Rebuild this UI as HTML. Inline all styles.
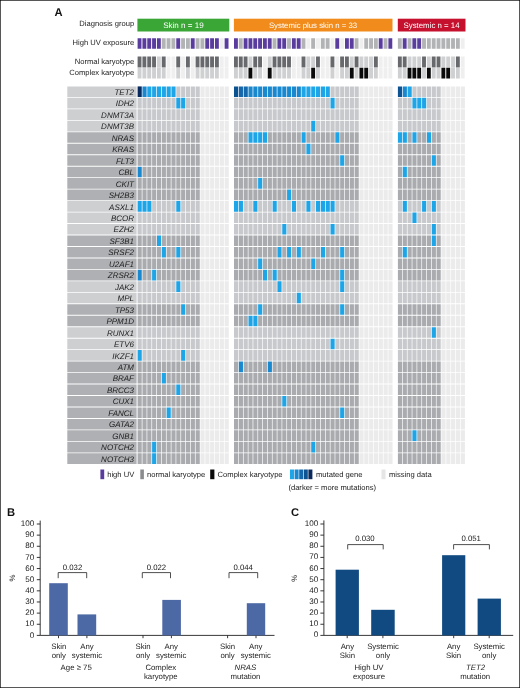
<!DOCTYPE html>
<html><head><meta charset="utf-8"><title>Figure</title>
<style>
html,body{margin:0;padding:0;background:#fff;}
body{width:520px;height:688px;overflow:hidden;position:relative;font-family:"Liberation Sans",sans-serif;}
svg{position:absolute;left:0;top:0;display:block;will-change:transform;}
svg text{font-family:"Liberation Sans",sans-serif;text-rendering:geometricPrecision;}
#frame{position:absolute;left:0;top:0;width:518px;height:686px;border:1px solid #555;pointer-events:none;}
</style></head><body>
<svg width="520" height="688" viewBox="0 0 520 688">
<rect x="0" y="0" width="520" height="688" fill="#ffffff"/>
<!-- panel A -->
<text x="54.5" y="15.5" font-size="11.2" font-weight="bold" fill="#111">A</text>
<g font-size="7.6" fill="#1c1c1c" text-anchor="end">
<text x="134.2" y="26.1">Diagnosis group</text>
<text x="134.2" y="45.2">High UV exposure</text>
<text x="134.2" y="63.6">Normal karyotype</text>
<text x="134.2" y="74.8">Complex karyotype</text>
</g>
<rect x="137.4" y="18.7" width="91.9" height="12.8" fill="#39a636"/>
<rect x="233.9" y="18.7" width="158.6" height="12.8" fill="#f18c1c"/>
<rect x="397.8" y="18.7" width="67.7" height="12.8" fill="#c5112e"/>
<g font-size="8.05" fill="#ffffff" text-anchor="middle">
<text x="183.4" y="27.9">Skin n = 19</text>
<text x="313.0" y="27.9" font-size="7.8">Systemic plus skin n = 33</text>
<text x="431.5" y="27.9" font-size="7.85">Systemic n = 14</text>
</g>
<path fill="#5a3c9e" d="M137.6 38.25h3.88v10.4h-3.88zM142.44 38.25h3.88v10.4h-3.88zM147.27 38.25h3.88v10.4h-3.88zM152.1 38.25h3.88v10.4h-3.88zM156.94 38.25h3.88v10.4h-3.88zM176.28 38.25h3.88v10.4h-3.88zM190.78 38.25h3.88v10.4h-3.88zM205.29 38.25h3.88v10.4h-3.88zM210.12 38.25h3.88v10.4h-3.88zM214.96 38.25h3.88v10.4h-3.88zM224.63 38.25h3.88v10.4h-3.88zM234 38.25h3.88v10.4h-3.88zM243.65 38.25h3.88v10.4h-3.88zM248.47 38.25h3.88v10.4h-3.88zM253.3 38.25h3.88v10.4h-3.88zM258.12 38.25h3.88v10.4h-3.88zM262.95 38.25h3.88v10.4h-3.88zM267.77 38.25h3.88v10.4h-3.88zM277.43 38.25h3.88v10.4h-3.88zM282.25 38.25h3.88v10.4h-3.88zM291.9 38.25h3.88v10.4h-3.88zM296.73 38.25h3.88v10.4h-3.88zM335.32 38.25h3.88v10.4h-3.88zM344.98 38.25h3.88v10.4h-3.88zM349.8 38.25h3.88v10.4h-3.88zM378.75 38.25h3.88v10.4h-3.88zM388.4 38.25h3.88v10.4h-3.88zM402.73 38.25h3.88v10.4h-3.88zM412.4 38.25h3.88v10.4h-3.88zM417.24 38.25h3.88v10.4h-3.88z"/>
<path fill="#b1b3b5" d="M161.78 38.25h3.88v10.4h-3.88zM166.61 38.25h3.88v10.4h-3.88zM171.44 38.25h3.88v10.4h-3.88zM181.12 38.25h3.88v10.4h-3.88zM185.95 38.25h3.88v10.4h-3.88zM195.62 38.25h3.88v10.4h-3.88zM200.45 38.25h3.88v10.4h-3.88zM238.82 38.25h3.88v10.4h-3.88zM272.6 38.25h3.88v10.4h-3.88zM287.07 38.25h3.88v10.4h-3.88zM301.55 38.25h3.88v10.4h-3.88zM311.2 38.25h3.88v10.4h-3.88zM320.85 38.25h3.88v10.4h-3.88zM325.68 38.25h3.88v10.4h-3.88zM354.62 38.25h3.88v10.4h-3.88zM364.27 38.25h3.88v10.4h-3.88zM369.1 38.25h3.88v10.4h-3.88zM373.93 38.25h3.88v10.4h-3.88zM383.58 38.25h3.88v10.4h-3.88zM397.9 38.25h3.88v10.4h-3.88zM407.57 38.25h3.88v10.4h-3.88zM422.07 38.25h3.88v10.4h-3.88zM426.91 38.25h3.88v10.4h-3.88zM431.75 38.25h3.88v10.4h-3.88zM436.58 38.25h3.88v10.4h-3.88zM441.41 38.25h3.88v10.4h-3.88zM446.25 38.25h3.88v10.4h-3.88zM451.08 38.25h3.88v10.4h-3.88zM455.92 38.25h3.88v10.4h-3.88z"/>
<path fill="#efeff0" d="M219.79 38.25h3.88v10.4h-3.88zM166.61 56.4h3.88v11.1h-3.88zM171.44 56.4h3.88v11.1h-3.88zM181.12 56.4h3.88v11.1h-3.88zM190.78 56.4h3.88v11.1h-3.88zM219.79 56.4h3.88v11.1h-3.88zM224.63 56.4h3.88v11.1h-3.88zM166.61 67.8h3.88v10.8h-3.88zM171.44 67.8h3.88v10.8h-3.88zM181.12 67.8h3.88v10.8h-3.88zM190.78 67.8h3.88v10.8h-3.88zM219.79 67.8h3.88v10.8h-3.88zM224.63 67.8h3.88v10.8h-3.88zM306.38 38.25h3.88v10.4h-3.88zM316.02 38.25h3.88v10.4h-3.88zM330.5 38.25h3.88v10.4h-3.88zM340.15 38.25h3.88v10.4h-3.88zM359.45 38.25h3.88v10.4h-3.88zM262.95 56.4h3.88v11.1h-3.88zM291.9 56.4h3.88v11.1h-3.88zM296.73 56.4h3.88v11.1h-3.88zM320.85 56.4h3.88v11.1h-3.88zM325.68 56.4h3.88v11.1h-3.88zM335.32 56.4h3.88v11.1h-3.88zM378.75 56.4h3.88v11.1h-3.88zM383.58 56.4h3.88v11.1h-3.88zM388.4 56.4h3.88v11.1h-3.88zM262.95 67.8h3.88v10.8h-3.88zM291.9 67.8h3.88v10.8h-3.88zM296.73 67.8h3.88v10.8h-3.88zM320.85 67.8h3.88v10.8h-3.88zM325.68 67.8h3.88v10.8h-3.88zM335.32 67.8h3.88v10.8h-3.88zM378.75 67.8h3.88v10.8h-3.88zM383.58 67.8h3.88v10.8h-3.88zM388.4 67.8h3.88v10.8h-3.88zM460.75 38.25h3.88v10.4h-3.88zM460.75 56.4h3.88v11.1h-3.88zM460.75 67.8h3.88v10.8h-3.88z"/>
<path fill="#68696c" d="M137.6 56.4h3.88v11.1h-3.88zM142.44 56.4h3.88v11.1h-3.88zM147.27 56.4h3.88v11.1h-3.88zM152.1 56.4h3.88v11.1h-3.88zM161.78 56.4h3.88v11.1h-3.88zM176.28 56.4h3.88v11.1h-3.88zM185.95 56.4h3.88v11.1h-3.88zM195.62 56.4h3.88v11.1h-3.88zM200.45 56.4h3.88v11.1h-3.88zM205.29 56.4h3.88v11.1h-3.88zM210.12 56.4h3.88v11.1h-3.88zM214.96 56.4h3.88v11.1h-3.88zM234 56.4h3.88v11.1h-3.88zM238.82 56.4h3.88v11.1h-3.88zM243.65 56.4h3.88v11.1h-3.88zM253.3 56.4h3.88v11.1h-3.88zM258.12 56.4h3.88v11.1h-3.88zM272.6 56.4h3.88v11.1h-3.88zM277.43 56.4h3.88v11.1h-3.88zM282.25 56.4h3.88v11.1h-3.88zM287.07 56.4h3.88v11.1h-3.88zM301.55 56.4h3.88v11.1h-3.88zM316.02 56.4h3.88v11.1h-3.88zM330.5 56.4h3.88v11.1h-3.88zM340.15 56.4h3.88v11.1h-3.88zM344.98 56.4h3.88v11.1h-3.88zM354.62 56.4h3.88v11.1h-3.88zM373.93 56.4h3.88v11.1h-3.88zM397.9 56.4h3.88v11.1h-3.88zM402.73 56.4h3.88v11.1h-3.88zM422.07 56.4h3.88v11.1h-3.88zM431.75 56.4h3.88v11.1h-3.88zM436.58 56.4h3.88v11.1h-3.88zM455.92 56.4h3.88v11.1h-3.88z"/>
<path fill="#cfd0d2" d="M156.94 56.4h3.88v11.1h-3.88zM137.6 67.8h3.88v10.8h-3.88zM142.44 67.8h3.88v10.8h-3.88zM147.27 67.8h3.88v10.8h-3.88zM152.1 67.8h3.88v10.8h-3.88zM156.94 67.8h3.88v10.8h-3.88zM161.78 67.8h3.88v10.8h-3.88zM176.28 67.8h3.88v10.8h-3.88zM185.95 67.8h3.88v10.8h-3.88zM195.62 67.8h3.88v10.8h-3.88zM200.45 67.8h3.88v10.8h-3.88zM205.29 67.8h3.88v10.8h-3.88zM210.12 67.8h3.88v10.8h-3.88zM214.96 67.8h3.88v10.8h-3.88zM248.47 56.4h3.88v11.1h-3.88zM267.77 56.4h3.88v11.1h-3.88zM306.38 56.4h3.88v11.1h-3.88zM311.2 56.4h3.88v11.1h-3.88zM349.8 56.4h3.88v11.1h-3.88zM359.45 56.4h3.88v11.1h-3.88zM364.27 56.4h3.88v11.1h-3.88zM369.1 56.4h3.88v11.1h-3.88zM234 67.8h3.88v10.8h-3.88zM238.82 67.8h3.88v10.8h-3.88zM243.65 67.8h3.88v10.8h-3.88zM253.3 67.8h3.88v10.8h-3.88zM258.12 67.8h3.88v10.8h-3.88zM272.6 67.8h3.88v10.8h-3.88zM277.43 67.8h3.88v10.8h-3.88zM282.25 67.8h3.88v10.8h-3.88zM287.07 67.8h3.88v10.8h-3.88zM301.55 67.8h3.88v10.8h-3.88zM306.38 67.8h3.88v10.8h-3.88zM316.02 67.8h3.88v10.8h-3.88zM330.5 67.8h3.88v10.8h-3.88zM340.15 67.8h3.88v10.8h-3.88zM344.98 67.8h3.88v10.8h-3.88zM354.62 67.8h3.88v10.8h-3.88zM369.1 67.8h3.88v10.8h-3.88zM373.93 67.8h3.88v10.8h-3.88zM407.57 56.4h3.88v11.1h-3.88zM412.4 56.4h3.88v11.1h-3.88zM417.24 56.4h3.88v11.1h-3.88zM426.91 56.4h3.88v11.1h-3.88zM441.41 56.4h3.88v11.1h-3.88zM446.25 56.4h3.88v11.1h-3.88zM451.08 56.4h3.88v11.1h-3.88zM397.9 67.8h3.88v10.8h-3.88zM402.73 67.8h3.88v10.8h-3.88zM422.07 67.8h3.88v10.8h-3.88zM431.75 67.8h3.88v10.8h-3.88zM436.58 67.8h3.88v10.8h-3.88zM451.08 67.8h3.88v10.8h-3.88zM455.92 67.8h3.88v10.8h-3.88z"/>
<path fill="#0a0a0a" d="M248.47 67.8h3.88v10.8h-3.88zM267.77 67.8h3.88v10.8h-3.88zM311.2 67.8h3.88v10.8h-3.88zM349.8 67.8h3.88v10.8h-3.88zM359.45 67.8h3.88v10.8h-3.88zM364.27 67.8h3.88v10.8h-3.88zM407.57 67.8h3.88v10.8h-3.88zM412.4 67.8h3.88v10.8h-3.88zM417.24 67.8h3.88v10.8h-3.88zM426.91 67.8h3.88v10.8h-3.88zM441.41 67.8h3.88v10.8h-3.88zM446.25 67.8h3.88v10.8h-3.88z"/>
<path fill="#cdcfd1" d="M67.3 86.4h69.3v10.6h-69.3zM67.3 97.87h69.3v10.6h-69.3zM67.3 109.33h69.3v10.6h-69.3zM67.3 120.8h69.3v10.6h-69.3zM67.3 201.05h69.3v10.6h-69.3zM67.3 212.51h69.3v10.6h-69.3zM67.3 223.98h69.3v10.6h-69.3zM67.3 281.31h69.3v10.6h-69.3zM67.3 292.77h69.3v10.6h-69.3zM67.3 327.16h69.3v10.6h-69.3zM67.3 338.63h69.3v10.6h-69.3zM67.3 350.1h69.3v10.6h-69.3z"/>
<path fill="#0a2a5e" d="M137.6 86.4h4.16v10.6h-4.16z"/>
<path fill="#1a88cf" d="M142.44 86.4h4.16v10.6h-4.16zM248.47 86.4h4.15v10.6h-4.15zM253.3 86.4h4.15v10.6h-4.15zM258.12 86.4h4.15v10.6h-4.15zM262.95 86.4h4.15v10.6h-4.15zM267.77 86.4h4.15v10.6h-4.15zM272.6 86.4h4.15v10.6h-4.15zM277.43 86.4h4.15v10.6h-4.15zM282.25 86.4h4.15v10.6h-4.15zM287.07 86.4h4.15v10.6h-4.15zM291.9 86.4h4.15v10.6h-4.15zM296.73 86.4h4.15v10.6h-4.15zM402.73 86.4h4.16v10.6h-4.16zM137.6 166.66h4.16v10.6h-4.16zM137.6 269.84h4.16v10.6h-4.16zM238.82 361.56h4.15v10.6h-4.15zM267.77 361.56h4.15v10.6h-4.15z"/>
<path fill="#1ea5e8" d="M147.27 86.4h4.16v10.6h-4.16zM152.1 86.4h4.16v10.6h-4.16zM156.94 86.4h4.16v10.6h-4.16zM161.78 86.4h4.16v10.6h-4.16zM166.61 86.4h4.16v10.6h-4.16zM171.44 86.4h4.16v10.6h-4.16zM301.55 86.4h4.15v10.6h-4.15zM306.38 86.4h4.15v10.6h-4.15zM311.2 86.4h4.15v10.6h-4.15zM316.02 86.4h4.15v10.6h-4.15zM320.85 86.4h4.15v10.6h-4.15zM325.68 86.4h4.15v10.6h-4.15zM407.57 86.4h4.16v10.6h-4.16zM176.28 97.87h4.16v10.6h-4.16zM181.12 97.87h4.16v10.6h-4.16zM330.5 97.87h4.15v10.6h-4.15zM412.4 97.87h4.16v10.6h-4.16zM417.24 97.87h4.16v10.6h-4.16zM422.07 97.87h4.16v10.6h-4.16zM311.2 120.8h4.15v10.6h-4.15zM248.47 132.26h4.15v10.6h-4.15zM253.3 132.26h4.15v10.6h-4.15zM258.12 132.26h4.15v10.6h-4.15zM262.95 132.26h4.15v10.6h-4.15zM301.55 132.26h4.15v10.6h-4.15zM335.32 132.26h4.15v10.6h-4.15zM397.9 132.26h4.16v10.6h-4.16zM402.73 132.26h4.16v10.6h-4.16zM412.4 132.26h4.16v10.6h-4.16zM426.91 132.26h4.16v10.6h-4.16zM306.38 143.73h4.15v10.6h-4.15zM340.15 155.19h4.15v10.6h-4.15zM431.75 155.19h4.16v10.6h-4.16zM402.73 166.66h4.16v10.6h-4.16zM258.12 178.12h4.15v10.6h-4.15zM287.07 189.59h4.15v10.6h-4.15zM137.6 201.05h4.16v10.6h-4.16zM142.44 201.05h4.16v10.6h-4.16zM147.27 201.05h4.16v10.6h-4.16zM176.28 201.05h4.16v10.6h-4.16zM234 201.05h4.15v10.6h-4.15zM238.82 201.05h4.15v10.6h-4.15zM253.3 201.05h4.15v10.6h-4.15zM272.6 201.05h4.15v10.6h-4.15zM291.9 201.05h4.15v10.6h-4.15zM306.38 201.05h4.15v10.6h-4.15zM316.02 201.05h4.15v10.6h-4.15zM320.85 201.05h4.15v10.6h-4.15zM325.68 201.05h4.15v10.6h-4.15zM330.5 201.05h4.15v10.6h-4.15zM402.73 201.05h4.16v10.6h-4.16zM422.07 201.05h4.16v10.6h-4.16zM431.75 201.05h4.16v10.6h-4.16zM412.4 212.51h4.16v10.6h-4.16zM282.25 223.98h4.15v10.6h-4.15zM330.5 223.98h4.15v10.6h-4.15zM431.75 223.98h4.16v10.6h-4.16zM156.94 235.44h4.16v10.6h-4.16zM431.75 235.44h4.16v10.6h-4.16zM161.78 246.91h4.16v10.6h-4.16zM176.28 246.91h4.16v10.6h-4.16zM277.43 246.91h4.15v10.6h-4.15zM287.07 246.91h4.15v10.6h-4.15zM296.73 246.91h4.15v10.6h-4.15zM320.85 246.91h4.15v10.6h-4.15zM340.15 246.91h4.15v10.6h-4.15zM402.73 246.91h4.16v10.6h-4.16zM258.12 258.38h4.15v10.6h-4.15zM311.2 258.38h4.15v10.6h-4.15zM152.1 269.84h4.16v10.6h-4.16zM262.95 269.84h4.15v10.6h-4.15zM272.6 269.84h4.15v10.6h-4.15zM340.15 269.84h4.15v10.6h-4.15zM176.28 281.31h4.16v10.6h-4.16zM277.43 281.31h4.15v10.6h-4.15zM340.15 281.31h4.15v10.6h-4.15zM296.73 292.77h4.15v10.6h-4.15zM181.12 304.24h4.16v10.6h-4.16zM258.12 304.24h4.15v10.6h-4.15zM340.15 304.24h4.15v10.6h-4.15zM248.47 315.7h4.15v10.6h-4.15zM253.3 315.7h4.15v10.6h-4.15zM431.75 327.16h4.16v10.6h-4.16zM330.5 338.63h4.15v10.6h-4.15zM137.6 350.1h4.16v10.6h-4.16zM181.12 350.1h4.16v10.6h-4.16zM161.78 373.02h4.16v10.6h-4.16zM176.28 384.49h4.16v10.6h-4.16zM282.25 395.96h4.15v10.6h-4.15zM166.61 407.42h4.16v10.6h-4.16zM340.15 407.42h4.15v10.6h-4.15zM412.4 430.35h4.16v10.6h-4.16zM152.1 441.82h4.16v10.6h-4.16zM311.2 441.82h4.15v10.6h-4.15zM152.1 453.28h4.16v10.6h-4.16z"/>
<path fill="#c7c9cc" d="M176.28 86.4h4.16v10.6h-4.16zM181.12 86.4h4.16v10.6h-4.16zM185.95 86.4h4.16v10.6h-4.16zM190.78 86.4h4.16v10.6h-4.16zM195.62 86.4h4.16v10.6h-4.16zM330.5 86.4h4.15v10.6h-4.15zM335.32 86.4h4.15v10.6h-4.15zM340.15 86.4h4.15v10.6h-4.15zM344.98 86.4h4.15v10.6h-4.15zM349.8 86.4h4.15v10.6h-4.15zM354.62 86.4h4.15v10.6h-4.15zM412.4 86.4h4.16v10.6h-4.16zM417.24 86.4h4.16v10.6h-4.16zM422.07 86.4h4.16v10.6h-4.16zM426.91 86.4h4.16v10.6h-4.16zM431.75 86.4h4.16v10.6h-4.16zM436.58 86.4h4.16v10.6h-4.16zM137.6 97.87h4.16v10.6h-4.16zM142.44 97.87h4.16v10.6h-4.16zM147.27 97.87h4.16v10.6h-4.16zM152.1 97.87h4.16v10.6h-4.16zM156.94 97.87h4.16v10.6h-4.16zM161.78 97.87h4.16v10.6h-4.16zM166.61 97.87h4.16v10.6h-4.16zM171.44 97.87h4.16v10.6h-4.16zM185.95 97.87h4.16v10.6h-4.16zM190.78 97.87h4.16v10.6h-4.16zM195.62 97.87h4.16v10.6h-4.16zM234 97.87h4.15v10.6h-4.15zM238.82 97.87h4.15v10.6h-4.15zM243.65 97.87h4.15v10.6h-4.15zM248.47 97.87h4.15v10.6h-4.15zM253.3 97.87h4.15v10.6h-4.15zM258.12 97.87h4.15v10.6h-4.15zM262.95 97.87h4.15v10.6h-4.15zM267.77 97.87h4.15v10.6h-4.15zM272.6 97.87h4.15v10.6h-4.15zM277.43 97.87h4.15v10.6h-4.15zM282.25 97.87h4.15v10.6h-4.15zM287.07 97.87h4.15v10.6h-4.15zM291.9 97.87h4.15v10.6h-4.15zM296.73 97.87h4.15v10.6h-4.15zM301.55 97.87h4.15v10.6h-4.15zM306.38 97.87h4.15v10.6h-4.15zM311.2 97.87h4.15v10.6h-4.15zM316.02 97.87h4.15v10.6h-4.15zM320.85 97.87h4.15v10.6h-4.15zM325.68 97.87h4.15v10.6h-4.15zM335.32 97.87h4.15v10.6h-4.15zM340.15 97.87h4.15v10.6h-4.15zM344.98 97.87h4.15v10.6h-4.15zM349.8 97.87h4.15v10.6h-4.15zM354.62 97.87h4.15v10.6h-4.15zM397.9 97.87h4.16v10.6h-4.16zM402.73 97.87h4.16v10.6h-4.16zM407.57 97.87h4.16v10.6h-4.16zM426.91 97.87h4.16v10.6h-4.16zM431.75 97.87h4.16v10.6h-4.16zM436.58 97.87h4.16v10.6h-4.16zM137.6 109.33h4.16v10.6h-4.16zM142.44 109.33h4.16v10.6h-4.16zM147.27 109.33h4.16v10.6h-4.16zM152.1 109.33h4.16v10.6h-4.16zM156.94 109.33h4.16v10.6h-4.16zM161.78 109.33h4.16v10.6h-4.16zM166.61 109.33h4.16v10.6h-4.16zM171.44 109.33h4.16v10.6h-4.16zM176.28 109.33h4.16v10.6h-4.16zM181.12 109.33h4.16v10.6h-4.16zM185.95 109.33h4.16v10.6h-4.16zM190.78 109.33h4.16v10.6h-4.16zM195.62 109.33h4.16v10.6h-4.16zM234 109.33h4.15v10.6h-4.15zM238.82 109.33h4.15v10.6h-4.15zM243.65 109.33h4.15v10.6h-4.15zM248.47 109.33h4.15v10.6h-4.15zM253.3 109.33h4.15v10.6h-4.15zM258.12 109.33h4.15v10.6h-4.15zM262.95 109.33h4.15v10.6h-4.15zM267.77 109.33h4.15v10.6h-4.15zM272.6 109.33h4.15v10.6h-4.15zM277.43 109.33h4.15v10.6h-4.15zM282.25 109.33h4.15v10.6h-4.15zM287.07 109.33h4.15v10.6h-4.15zM291.9 109.33h4.15v10.6h-4.15zM296.73 109.33h4.15v10.6h-4.15zM301.55 109.33h4.15v10.6h-4.15zM306.38 109.33h4.15v10.6h-4.15zM311.2 109.33h4.15v10.6h-4.15zM316.02 109.33h4.15v10.6h-4.15zM320.85 109.33h4.15v10.6h-4.15zM325.68 109.33h4.15v10.6h-4.15zM330.5 109.33h4.15v10.6h-4.15zM335.32 109.33h4.15v10.6h-4.15zM340.15 109.33h4.15v10.6h-4.15zM344.98 109.33h4.15v10.6h-4.15zM349.8 109.33h4.15v10.6h-4.15zM354.62 109.33h4.15v10.6h-4.15zM397.9 109.33h4.16v10.6h-4.16zM402.73 109.33h4.16v10.6h-4.16zM407.57 109.33h4.16v10.6h-4.16zM412.4 109.33h4.16v10.6h-4.16zM417.24 109.33h4.16v10.6h-4.16zM422.07 109.33h4.16v10.6h-4.16zM426.91 109.33h4.16v10.6h-4.16zM431.75 109.33h4.16v10.6h-4.16zM436.58 109.33h4.16v10.6h-4.16zM137.6 120.8h4.16v10.6h-4.16zM142.44 120.8h4.16v10.6h-4.16zM147.27 120.8h4.16v10.6h-4.16zM152.1 120.8h4.16v10.6h-4.16zM156.94 120.8h4.16v10.6h-4.16zM161.78 120.8h4.16v10.6h-4.16zM166.61 120.8h4.16v10.6h-4.16zM171.44 120.8h4.16v10.6h-4.16zM176.28 120.8h4.16v10.6h-4.16zM181.12 120.8h4.16v10.6h-4.16zM185.95 120.8h4.16v10.6h-4.16zM190.78 120.8h4.16v10.6h-4.16zM195.62 120.8h4.16v10.6h-4.16zM234 120.8h4.15v10.6h-4.15zM238.82 120.8h4.15v10.6h-4.15zM243.65 120.8h4.15v10.6h-4.15zM248.47 120.8h4.15v10.6h-4.15zM253.3 120.8h4.15v10.6h-4.15zM258.12 120.8h4.15v10.6h-4.15zM262.95 120.8h4.15v10.6h-4.15zM267.77 120.8h4.15v10.6h-4.15zM272.6 120.8h4.15v10.6h-4.15zM277.43 120.8h4.15v10.6h-4.15zM282.25 120.8h4.15v10.6h-4.15zM287.07 120.8h4.15v10.6h-4.15zM291.9 120.8h4.15v10.6h-4.15zM296.73 120.8h4.15v10.6h-4.15zM301.55 120.8h4.15v10.6h-4.15zM306.38 120.8h4.15v10.6h-4.15zM316.02 120.8h4.15v10.6h-4.15zM320.85 120.8h4.15v10.6h-4.15zM325.68 120.8h4.15v10.6h-4.15zM330.5 120.8h4.15v10.6h-4.15zM335.32 120.8h4.15v10.6h-4.15zM340.15 120.8h4.15v10.6h-4.15zM344.98 120.8h4.15v10.6h-4.15zM349.8 120.8h4.15v10.6h-4.15zM354.62 120.8h4.15v10.6h-4.15zM397.9 120.8h4.16v10.6h-4.16zM402.73 120.8h4.16v10.6h-4.16zM407.57 120.8h4.16v10.6h-4.16zM412.4 120.8h4.16v10.6h-4.16zM417.24 120.8h4.16v10.6h-4.16zM422.07 120.8h4.16v10.6h-4.16zM426.91 120.8h4.16v10.6h-4.16zM431.75 120.8h4.16v10.6h-4.16zM436.58 120.8h4.16v10.6h-4.16zM152.1 201.05h4.16v10.6h-4.16zM156.94 201.05h4.16v10.6h-4.16zM161.78 201.05h4.16v10.6h-4.16zM166.61 201.05h4.16v10.6h-4.16zM171.44 201.05h4.16v10.6h-4.16zM181.12 201.05h4.16v10.6h-4.16zM185.95 201.05h4.16v10.6h-4.16zM190.78 201.05h4.16v10.6h-4.16zM195.62 201.05h4.16v10.6h-4.16zM243.65 201.05h4.15v10.6h-4.15zM248.47 201.05h4.15v10.6h-4.15zM258.12 201.05h4.15v10.6h-4.15zM262.95 201.05h4.15v10.6h-4.15zM267.77 201.05h4.15v10.6h-4.15zM277.43 201.05h4.15v10.6h-4.15zM282.25 201.05h4.15v10.6h-4.15zM287.07 201.05h4.15v10.6h-4.15zM296.73 201.05h4.15v10.6h-4.15zM301.55 201.05h4.15v10.6h-4.15zM311.2 201.05h4.15v10.6h-4.15zM335.32 201.05h4.15v10.6h-4.15zM340.15 201.05h4.15v10.6h-4.15zM344.98 201.05h4.15v10.6h-4.15zM349.8 201.05h4.15v10.6h-4.15zM354.62 201.05h4.15v10.6h-4.15zM397.9 201.05h4.16v10.6h-4.16zM407.57 201.05h4.16v10.6h-4.16zM412.4 201.05h4.16v10.6h-4.16zM417.24 201.05h4.16v10.6h-4.16zM426.91 201.05h4.16v10.6h-4.16zM436.58 201.05h4.16v10.6h-4.16zM137.6 212.51h4.16v10.6h-4.16zM142.44 212.51h4.16v10.6h-4.16zM147.27 212.51h4.16v10.6h-4.16zM152.1 212.51h4.16v10.6h-4.16zM156.94 212.51h4.16v10.6h-4.16zM161.78 212.51h4.16v10.6h-4.16zM166.61 212.51h4.16v10.6h-4.16zM171.44 212.51h4.16v10.6h-4.16zM176.28 212.51h4.16v10.6h-4.16zM181.12 212.51h4.16v10.6h-4.16zM185.95 212.51h4.16v10.6h-4.16zM190.78 212.51h4.16v10.6h-4.16zM195.62 212.51h4.16v10.6h-4.16zM234 212.51h4.15v10.6h-4.15zM238.82 212.51h4.15v10.6h-4.15zM243.65 212.51h4.15v10.6h-4.15zM248.47 212.51h4.15v10.6h-4.15zM253.3 212.51h4.15v10.6h-4.15zM258.12 212.51h4.15v10.6h-4.15zM262.95 212.51h4.15v10.6h-4.15zM267.77 212.51h4.15v10.6h-4.15zM272.6 212.51h4.15v10.6h-4.15zM277.43 212.51h4.15v10.6h-4.15zM282.25 212.51h4.15v10.6h-4.15zM287.07 212.51h4.15v10.6h-4.15zM291.9 212.51h4.15v10.6h-4.15zM296.73 212.51h4.15v10.6h-4.15zM301.55 212.51h4.15v10.6h-4.15zM306.38 212.51h4.15v10.6h-4.15zM311.2 212.51h4.15v10.6h-4.15zM316.02 212.51h4.15v10.6h-4.15zM320.85 212.51h4.15v10.6h-4.15zM325.68 212.51h4.15v10.6h-4.15zM330.5 212.51h4.15v10.6h-4.15zM335.32 212.51h4.15v10.6h-4.15zM340.15 212.51h4.15v10.6h-4.15zM344.98 212.51h4.15v10.6h-4.15zM349.8 212.51h4.15v10.6h-4.15zM354.62 212.51h4.15v10.6h-4.15zM397.9 212.51h4.16v10.6h-4.16zM402.73 212.51h4.16v10.6h-4.16zM407.57 212.51h4.16v10.6h-4.16zM417.24 212.51h4.16v10.6h-4.16zM422.07 212.51h4.16v10.6h-4.16zM426.91 212.51h4.16v10.6h-4.16zM431.75 212.51h4.16v10.6h-4.16zM436.58 212.51h4.16v10.6h-4.16zM137.6 223.98h4.16v10.6h-4.16zM142.44 223.98h4.16v10.6h-4.16zM147.27 223.98h4.16v10.6h-4.16zM152.1 223.98h4.16v10.6h-4.16zM156.94 223.98h4.16v10.6h-4.16zM161.78 223.98h4.16v10.6h-4.16zM166.61 223.98h4.16v10.6h-4.16zM171.44 223.98h4.16v10.6h-4.16zM176.28 223.98h4.16v10.6h-4.16zM181.12 223.98h4.16v10.6h-4.16zM185.95 223.98h4.16v10.6h-4.16zM190.78 223.98h4.16v10.6h-4.16zM195.62 223.98h4.16v10.6h-4.16zM234 223.98h4.15v10.6h-4.15zM238.82 223.98h4.15v10.6h-4.15zM243.65 223.98h4.15v10.6h-4.15zM248.47 223.98h4.15v10.6h-4.15zM253.3 223.98h4.15v10.6h-4.15zM258.12 223.98h4.15v10.6h-4.15zM262.95 223.98h4.15v10.6h-4.15zM267.77 223.98h4.15v10.6h-4.15zM272.6 223.98h4.15v10.6h-4.15zM277.43 223.98h4.15v10.6h-4.15zM287.07 223.98h4.15v10.6h-4.15zM291.9 223.98h4.15v10.6h-4.15zM296.73 223.98h4.15v10.6h-4.15zM301.55 223.98h4.15v10.6h-4.15zM306.38 223.98h4.15v10.6h-4.15zM311.2 223.98h4.15v10.6h-4.15zM316.02 223.98h4.15v10.6h-4.15zM320.85 223.98h4.15v10.6h-4.15zM325.68 223.98h4.15v10.6h-4.15zM335.32 223.98h4.15v10.6h-4.15zM340.15 223.98h4.15v10.6h-4.15zM344.98 223.98h4.15v10.6h-4.15zM349.8 223.98h4.15v10.6h-4.15zM354.62 223.98h4.15v10.6h-4.15zM397.9 223.98h4.16v10.6h-4.16zM402.73 223.98h4.16v10.6h-4.16zM407.57 223.98h4.16v10.6h-4.16zM412.4 223.98h4.16v10.6h-4.16zM417.24 223.98h4.16v10.6h-4.16zM422.07 223.98h4.16v10.6h-4.16zM426.91 223.98h4.16v10.6h-4.16zM436.58 223.98h4.16v10.6h-4.16zM137.6 281.31h4.16v10.6h-4.16zM142.44 281.31h4.16v10.6h-4.16zM147.27 281.31h4.16v10.6h-4.16zM152.1 281.31h4.16v10.6h-4.16zM156.94 281.31h4.16v10.6h-4.16zM161.78 281.31h4.16v10.6h-4.16zM166.61 281.31h4.16v10.6h-4.16zM171.44 281.31h4.16v10.6h-4.16zM181.12 281.31h4.16v10.6h-4.16zM185.95 281.31h4.16v10.6h-4.16zM190.78 281.31h4.16v10.6h-4.16zM195.62 281.31h4.16v10.6h-4.16zM234 281.31h4.15v10.6h-4.15zM238.82 281.31h4.15v10.6h-4.15zM243.65 281.31h4.15v10.6h-4.15zM248.47 281.31h4.15v10.6h-4.15zM253.3 281.31h4.15v10.6h-4.15zM258.12 281.31h4.15v10.6h-4.15zM262.95 281.31h4.15v10.6h-4.15zM267.77 281.31h4.15v10.6h-4.15zM272.6 281.31h4.15v10.6h-4.15zM282.25 281.31h4.15v10.6h-4.15zM287.07 281.31h4.15v10.6h-4.15zM291.9 281.31h4.15v10.6h-4.15zM296.73 281.31h4.15v10.6h-4.15zM301.55 281.31h4.15v10.6h-4.15zM306.38 281.31h4.15v10.6h-4.15zM311.2 281.31h4.15v10.6h-4.15zM316.02 281.31h4.15v10.6h-4.15zM320.85 281.31h4.15v10.6h-4.15zM325.68 281.31h4.15v10.6h-4.15zM330.5 281.31h4.15v10.6h-4.15zM335.32 281.31h4.15v10.6h-4.15zM344.98 281.31h4.15v10.6h-4.15zM349.8 281.31h4.15v10.6h-4.15zM354.62 281.31h4.15v10.6h-4.15zM397.9 281.31h4.16v10.6h-4.16zM402.73 281.31h4.16v10.6h-4.16zM407.57 281.31h4.16v10.6h-4.16zM412.4 281.31h4.16v10.6h-4.16zM417.24 281.31h4.16v10.6h-4.16zM422.07 281.31h4.16v10.6h-4.16zM426.91 281.31h4.16v10.6h-4.16zM431.75 281.31h4.16v10.6h-4.16zM436.58 281.31h4.16v10.6h-4.16zM137.6 292.77h4.16v10.6h-4.16zM142.44 292.77h4.16v10.6h-4.16zM147.27 292.77h4.16v10.6h-4.16zM152.1 292.77h4.16v10.6h-4.16zM156.94 292.77h4.16v10.6h-4.16zM161.78 292.77h4.16v10.6h-4.16zM166.61 292.77h4.16v10.6h-4.16zM171.44 292.77h4.16v10.6h-4.16zM176.28 292.77h4.16v10.6h-4.16zM181.12 292.77h4.16v10.6h-4.16zM185.95 292.77h4.16v10.6h-4.16zM190.78 292.77h4.16v10.6h-4.16zM195.62 292.77h4.16v10.6h-4.16zM234 292.77h4.15v10.6h-4.15zM238.82 292.77h4.15v10.6h-4.15zM243.65 292.77h4.15v10.6h-4.15zM248.47 292.77h4.15v10.6h-4.15zM253.3 292.77h4.15v10.6h-4.15zM258.12 292.77h4.15v10.6h-4.15zM262.95 292.77h4.15v10.6h-4.15zM267.77 292.77h4.15v10.6h-4.15zM272.6 292.77h4.15v10.6h-4.15zM277.43 292.77h4.15v10.6h-4.15zM282.25 292.77h4.15v10.6h-4.15zM287.07 292.77h4.15v10.6h-4.15zM291.9 292.77h4.15v10.6h-4.15zM301.55 292.77h4.15v10.6h-4.15zM306.38 292.77h4.15v10.6h-4.15zM311.2 292.77h4.15v10.6h-4.15zM316.02 292.77h4.15v10.6h-4.15zM320.85 292.77h4.15v10.6h-4.15zM325.68 292.77h4.15v10.6h-4.15zM330.5 292.77h4.15v10.6h-4.15zM335.32 292.77h4.15v10.6h-4.15zM340.15 292.77h4.15v10.6h-4.15zM344.98 292.77h4.15v10.6h-4.15zM349.8 292.77h4.15v10.6h-4.15zM354.62 292.77h4.15v10.6h-4.15zM397.9 292.77h4.16v10.6h-4.16zM402.73 292.77h4.16v10.6h-4.16zM407.57 292.77h4.16v10.6h-4.16zM412.4 292.77h4.16v10.6h-4.16zM417.24 292.77h4.16v10.6h-4.16zM422.07 292.77h4.16v10.6h-4.16zM426.91 292.77h4.16v10.6h-4.16zM431.75 292.77h4.16v10.6h-4.16zM436.58 292.77h4.16v10.6h-4.16zM137.6 327.16h4.16v10.6h-4.16zM142.44 327.16h4.16v10.6h-4.16zM147.27 327.16h4.16v10.6h-4.16zM152.1 327.16h4.16v10.6h-4.16zM156.94 327.16h4.16v10.6h-4.16zM161.78 327.16h4.16v10.6h-4.16zM166.61 327.16h4.16v10.6h-4.16zM171.44 327.16h4.16v10.6h-4.16zM176.28 327.16h4.16v10.6h-4.16zM181.12 327.16h4.16v10.6h-4.16zM185.95 327.16h4.16v10.6h-4.16zM190.78 327.16h4.16v10.6h-4.16zM195.62 327.16h4.16v10.6h-4.16zM234 327.16h4.15v10.6h-4.15zM238.82 327.16h4.15v10.6h-4.15zM243.65 327.16h4.15v10.6h-4.15zM248.47 327.16h4.15v10.6h-4.15zM253.3 327.16h4.15v10.6h-4.15zM258.12 327.16h4.15v10.6h-4.15zM262.95 327.16h4.15v10.6h-4.15zM267.77 327.16h4.15v10.6h-4.15zM272.6 327.16h4.15v10.6h-4.15zM277.43 327.16h4.15v10.6h-4.15zM282.25 327.16h4.15v10.6h-4.15zM287.07 327.16h4.15v10.6h-4.15zM291.9 327.16h4.15v10.6h-4.15zM296.73 327.16h4.15v10.6h-4.15zM301.55 327.16h4.15v10.6h-4.15zM306.38 327.16h4.15v10.6h-4.15zM311.2 327.16h4.15v10.6h-4.15zM316.02 327.16h4.15v10.6h-4.15zM320.85 327.16h4.15v10.6h-4.15zM325.68 327.16h4.15v10.6h-4.15zM330.5 327.16h4.15v10.6h-4.15zM335.32 327.16h4.15v10.6h-4.15zM340.15 327.16h4.15v10.6h-4.15zM344.98 327.16h4.15v10.6h-4.15zM349.8 327.16h4.15v10.6h-4.15zM354.62 327.16h4.15v10.6h-4.15zM397.9 327.16h4.16v10.6h-4.16zM402.73 327.16h4.16v10.6h-4.16zM407.57 327.16h4.16v10.6h-4.16zM412.4 327.16h4.16v10.6h-4.16zM417.24 327.16h4.16v10.6h-4.16zM422.07 327.16h4.16v10.6h-4.16zM426.91 327.16h4.16v10.6h-4.16zM436.58 327.16h4.16v10.6h-4.16zM137.6 338.63h4.16v10.6h-4.16zM142.44 338.63h4.16v10.6h-4.16zM147.27 338.63h4.16v10.6h-4.16zM152.1 338.63h4.16v10.6h-4.16zM156.94 338.63h4.16v10.6h-4.16zM161.78 338.63h4.16v10.6h-4.16zM166.61 338.63h4.16v10.6h-4.16zM171.44 338.63h4.16v10.6h-4.16zM176.28 338.63h4.16v10.6h-4.16zM181.12 338.63h4.16v10.6h-4.16zM185.95 338.63h4.16v10.6h-4.16zM190.78 338.63h4.16v10.6h-4.16zM195.62 338.63h4.16v10.6h-4.16zM234 338.63h4.15v10.6h-4.15zM238.82 338.63h4.15v10.6h-4.15zM243.65 338.63h4.15v10.6h-4.15zM248.47 338.63h4.15v10.6h-4.15zM253.3 338.63h4.15v10.6h-4.15zM258.12 338.63h4.15v10.6h-4.15zM262.95 338.63h4.15v10.6h-4.15zM267.77 338.63h4.15v10.6h-4.15zM272.6 338.63h4.15v10.6h-4.15zM277.43 338.63h4.15v10.6h-4.15zM282.25 338.63h4.15v10.6h-4.15zM287.07 338.63h4.15v10.6h-4.15zM291.9 338.63h4.15v10.6h-4.15zM296.73 338.63h4.15v10.6h-4.15zM301.55 338.63h4.15v10.6h-4.15zM306.38 338.63h4.15v10.6h-4.15zM311.2 338.63h4.15v10.6h-4.15zM316.02 338.63h4.15v10.6h-4.15zM320.85 338.63h4.15v10.6h-4.15zM325.68 338.63h4.15v10.6h-4.15zM335.32 338.63h4.15v10.6h-4.15zM340.15 338.63h4.15v10.6h-4.15zM344.98 338.63h4.15v10.6h-4.15zM349.8 338.63h4.15v10.6h-4.15zM354.62 338.63h4.15v10.6h-4.15zM397.9 338.63h4.16v10.6h-4.16zM402.73 338.63h4.16v10.6h-4.16zM407.57 338.63h4.16v10.6h-4.16zM412.4 338.63h4.16v10.6h-4.16zM417.24 338.63h4.16v10.6h-4.16zM422.07 338.63h4.16v10.6h-4.16zM426.91 338.63h4.16v10.6h-4.16zM431.75 338.63h4.16v10.6h-4.16zM436.58 338.63h4.16v10.6h-4.16zM142.44 350.1h4.16v10.6h-4.16zM147.27 350.1h4.16v10.6h-4.16zM152.1 350.1h4.16v10.6h-4.16zM156.94 350.1h4.16v10.6h-4.16zM161.78 350.1h4.16v10.6h-4.16zM166.61 350.1h4.16v10.6h-4.16zM171.44 350.1h4.16v10.6h-4.16zM176.28 350.1h4.16v10.6h-4.16zM185.95 350.1h4.16v10.6h-4.16zM190.78 350.1h4.16v10.6h-4.16zM195.62 350.1h4.16v10.6h-4.16zM234 350.1h4.15v10.6h-4.15zM238.82 350.1h4.15v10.6h-4.15zM243.65 350.1h4.15v10.6h-4.15zM248.47 350.1h4.15v10.6h-4.15zM253.3 350.1h4.15v10.6h-4.15zM258.12 350.1h4.15v10.6h-4.15zM262.95 350.1h4.15v10.6h-4.15zM267.77 350.1h4.15v10.6h-4.15zM272.6 350.1h4.15v10.6h-4.15zM277.43 350.1h4.15v10.6h-4.15zM282.25 350.1h4.15v10.6h-4.15zM287.07 350.1h4.15v10.6h-4.15zM291.9 350.1h4.15v10.6h-4.15zM296.73 350.1h4.15v10.6h-4.15zM301.55 350.1h4.15v10.6h-4.15zM306.38 350.1h4.15v10.6h-4.15zM311.2 350.1h4.15v10.6h-4.15zM316.02 350.1h4.15v10.6h-4.15zM320.85 350.1h4.15v10.6h-4.15zM325.68 350.1h4.15v10.6h-4.15zM330.5 350.1h4.15v10.6h-4.15zM335.32 350.1h4.15v10.6h-4.15zM340.15 350.1h4.15v10.6h-4.15zM344.98 350.1h4.15v10.6h-4.15zM349.8 350.1h4.15v10.6h-4.15zM354.62 350.1h4.15v10.6h-4.15zM397.9 350.1h4.16v10.6h-4.16zM402.73 350.1h4.16v10.6h-4.16zM407.57 350.1h4.16v10.6h-4.16zM412.4 350.1h4.16v10.6h-4.16zM417.24 350.1h4.16v10.6h-4.16zM422.07 350.1h4.16v10.6h-4.16zM426.91 350.1h4.16v10.6h-4.16zM431.75 350.1h4.16v10.6h-4.16zM436.58 350.1h4.16v10.6h-4.16z"/>
<path fill="#ebebec" d="M200.45 86.4h4.16v10.6h-4.16zM205.29 86.4h4.16v10.6h-4.16zM210.12 86.4h4.16v10.6h-4.16zM214.96 86.4h4.16v10.6h-4.16zM219.79 86.4h4.16v10.6h-4.16zM224.63 86.4h4.16v10.6h-4.16zM359.45 86.4h4.15v10.6h-4.15zM364.27 86.4h4.15v10.6h-4.15zM369.1 86.4h4.15v10.6h-4.15zM373.93 86.4h4.15v10.6h-4.15zM378.75 86.4h4.15v10.6h-4.15zM383.58 86.4h4.15v10.6h-4.15zM388.4 86.4h4.15v10.6h-4.15zM441.41 86.4h4.16v10.6h-4.16zM446.25 86.4h4.16v10.6h-4.16zM451.08 86.4h4.16v10.6h-4.16zM455.92 86.4h4.16v10.6h-4.16zM460.75 86.4h4.16v10.6h-4.16zM200.45 97.87h4.16v10.6h-4.16zM205.29 97.87h4.16v10.6h-4.16zM210.12 97.87h4.16v10.6h-4.16zM214.96 97.87h4.16v10.6h-4.16zM219.79 97.87h4.16v10.6h-4.16zM224.63 97.87h4.16v10.6h-4.16zM359.45 97.87h4.15v10.6h-4.15zM364.27 97.87h4.15v10.6h-4.15zM369.1 97.87h4.15v10.6h-4.15zM373.93 97.87h4.15v10.6h-4.15zM378.75 97.87h4.15v10.6h-4.15zM383.58 97.87h4.15v10.6h-4.15zM388.4 97.87h4.15v10.6h-4.15zM441.41 97.87h4.16v10.6h-4.16zM446.25 97.87h4.16v10.6h-4.16zM451.08 97.87h4.16v10.6h-4.16zM455.92 97.87h4.16v10.6h-4.16zM460.75 97.87h4.16v10.6h-4.16zM200.45 109.33h4.16v10.6h-4.16zM205.29 109.33h4.16v10.6h-4.16zM210.12 109.33h4.16v10.6h-4.16zM214.96 109.33h4.16v10.6h-4.16zM219.79 109.33h4.16v10.6h-4.16zM224.63 109.33h4.16v10.6h-4.16zM359.45 109.33h4.15v10.6h-4.15zM364.27 109.33h4.15v10.6h-4.15zM369.1 109.33h4.15v10.6h-4.15zM373.93 109.33h4.15v10.6h-4.15zM378.75 109.33h4.15v10.6h-4.15zM383.58 109.33h4.15v10.6h-4.15zM388.4 109.33h4.15v10.6h-4.15zM441.41 109.33h4.16v10.6h-4.16zM446.25 109.33h4.16v10.6h-4.16zM451.08 109.33h4.16v10.6h-4.16zM455.92 109.33h4.16v10.6h-4.16zM460.75 109.33h4.16v10.6h-4.16zM200.45 120.8h4.16v10.6h-4.16zM205.29 120.8h4.16v10.6h-4.16zM210.12 120.8h4.16v10.6h-4.16zM214.96 120.8h4.16v10.6h-4.16zM219.79 120.8h4.16v10.6h-4.16zM224.63 120.8h4.16v10.6h-4.16zM359.45 120.8h4.15v10.6h-4.15zM364.27 120.8h4.15v10.6h-4.15zM369.1 120.8h4.15v10.6h-4.15zM373.93 120.8h4.15v10.6h-4.15zM378.75 120.8h4.15v10.6h-4.15zM383.58 120.8h4.15v10.6h-4.15zM388.4 120.8h4.15v10.6h-4.15zM441.41 120.8h4.16v10.6h-4.16zM446.25 120.8h4.16v10.6h-4.16zM451.08 120.8h4.16v10.6h-4.16zM455.92 120.8h4.16v10.6h-4.16zM460.75 120.8h4.16v10.6h-4.16zM200.45 132.26h4.16v10.6h-4.16zM205.29 132.26h4.16v10.6h-4.16zM210.12 132.26h4.16v10.6h-4.16zM214.96 132.26h4.16v10.6h-4.16zM219.79 132.26h4.16v10.6h-4.16zM224.63 132.26h4.16v10.6h-4.16zM359.45 132.26h4.15v10.6h-4.15zM364.27 132.26h4.15v10.6h-4.15zM369.1 132.26h4.15v10.6h-4.15zM373.93 132.26h4.15v10.6h-4.15zM378.75 132.26h4.15v10.6h-4.15zM383.58 132.26h4.15v10.6h-4.15zM388.4 132.26h4.15v10.6h-4.15zM441.41 132.26h4.16v10.6h-4.16zM446.25 132.26h4.16v10.6h-4.16zM451.08 132.26h4.16v10.6h-4.16zM455.92 132.26h4.16v10.6h-4.16zM460.75 132.26h4.16v10.6h-4.16zM200.45 143.73h4.16v10.6h-4.16zM205.29 143.73h4.16v10.6h-4.16zM210.12 143.73h4.16v10.6h-4.16zM214.96 143.73h4.16v10.6h-4.16zM219.79 143.73h4.16v10.6h-4.16zM224.63 143.73h4.16v10.6h-4.16zM359.45 143.73h4.15v10.6h-4.15zM364.27 143.73h4.15v10.6h-4.15zM369.1 143.73h4.15v10.6h-4.15zM373.93 143.73h4.15v10.6h-4.15zM378.75 143.73h4.15v10.6h-4.15zM383.58 143.73h4.15v10.6h-4.15zM388.4 143.73h4.15v10.6h-4.15zM441.41 143.73h4.16v10.6h-4.16zM446.25 143.73h4.16v10.6h-4.16zM451.08 143.73h4.16v10.6h-4.16zM455.92 143.73h4.16v10.6h-4.16zM460.75 143.73h4.16v10.6h-4.16zM200.45 155.19h4.16v10.6h-4.16zM205.29 155.19h4.16v10.6h-4.16zM210.12 155.19h4.16v10.6h-4.16zM214.96 155.19h4.16v10.6h-4.16zM219.79 155.19h4.16v10.6h-4.16zM224.63 155.19h4.16v10.6h-4.16zM359.45 155.19h4.15v10.6h-4.15zM364.27 155.19h4.15v10.6h-4.15zM369.1 155.19h4.15v10.6h-4.15zM373.93 155.19h4.15v10.6h-4.15zM378.75 155.19h4.15v10.6h-4.15zM383.58 155.19h4.15v10.6h-4.15zM388.4 155.19h4.15v10.6h-4.15zM441.41 155.19h4.16v10.6h-4.16zM446.25 155.19h4.16v10.6h-4.16zM451.08 155.19h4.16v10.6h-4.16zM455.92 155.19h4.16v10.6h-4.16zM460.75 155.19h4.16v10.6h-4.16zM200.45 166.66h4.16v10.6h-4.16zM205.29 166.66h4.16v10.6h-4.16zM210.12 166.66h4.16v10.6h-4.16zM214.96 166.66h4.16v10.6h-4.16zM219.79 166.66h4.16v10.6h-4.16zM224.63 166.66h4.16v10.6h-4.16zM359.45 166.66h4.15v10.6h-4.15zM364.27 166.66h4.15v10.6h-4.15zM369.1 166.66h4.15v10.6h-4.15zM373.93 166.66h4.15v10.6h-4.15zM378.75 166.66h4.15v10.6h-4.15zM383.58 166.66h4.15v10.6h-4.15zM388.4 166.66h4.15v10.6h-4.15zM441.41 166.66h4.16v10.6h-4.16zM446.25 166.66h4.16v10.6h-4.16zM451.08 166.66h4.16v10.6h-4.16zM455.92 166.66h4.16v10.6h-4.16zM460.75 166.66h4.16v10.6h-4.16zM200.45 178.12h4.16v10.6h-4.16zM205.29 178.12h4.16v10.6h-4.16zM210.12 178.12h4.16v10.6h-4.16zM214.96 178.12h4.16v10.6h-4.16zM219.79 178.12h4.16v10.6h-4.16zM224.63 178.12h4.16v10.6h-4.16zM359.45 178.12h4.15v10.6h-4.15zM364.27 178.12h4.15v10.6h-4.15zM369.1 178.12h4.15v10.6h-4.15zM373.93 178.12h4.15v10.6h-4.15zM378.75 178.12h4.15v10.6h-4.15zM383.58 178.12h4.15v10.6h-4.15zM388.4 178.12h4.15v10.6h-4.15zM441.41 178.12h4.16v10.6h-4.16zM446.25 178.12h4.16v10.6h-4.16zM451.08 178.12h4.16v10.6h-4.16zM455.92 178.12h4.16v10.6h-4.16zM460.75 178.12h4.16v10.6h-4.16zM200.45 189.59h4.16v10.6h-4.16zM205.29 189.59h4.16v10.6h-4.16zM210.12 189.59h4.16v10.6h-4.16zM214.96 189.59h4.16v10.6h-4.16zM219.79 189.59h4.16v10.6h-4.16zM224.63 189.59h4.16v10.6h-4.16zM359.45 189.59h4.15v10.6h-4.15zM364.27 189.59h4.15v10.6h-4.15zM369.1 189.59h4.15v10.6h-4.15zM373.93 189.59h4.15v10.6h-4.15zM378.75 189.59h4.15v10.6h-4.15zM383.58 189.59h4.15v10.6h-4.15zM388.4 189.59h4.15v10.6h-4.15zM441.41 189.59h4.16v10.6h-4.16zM446.25 189.59h4.16v10.6h-4.16zM451.08 189.59h4.16v10.6h-4.16zM455.92 189.59h4.16v10.6h-4.16zM460.75 189.59h4.16v10.6h-4.16zM200.45 201.05h4.16v10.6h-4.16zM205.29 201.05h4.16v10.6h-4.16zM210.12 201.05h4.16v10.6h-4.16zM214.96 201.05h4.16v10.6h-4.16zM219.79 201.05h4.16v10.6h-4.16zM224.63 201.05h4.16v10.6h-4.16zM359.45 201.05h4.15v10.6h-4.15zM364.27 201.05h4.15v10.6h-4.15zM369.1 201.05h4.15v10.6h-4.15zM373.93 201.05h4.15v10.6h-4.15zM378.75 201.05h4.15v10.6h-4.15zM383.58 201.05h4.15v10.6h-4.15zM388.4 201.05h4.15v10.6h-4.15zM441.41 201.05h4.16v10.6h-4.16zM446.25 201.05h4.16v10.6h-4.16zM451.08 201.05h4.16v10.6h-4.16zM455.92 201.05h4.16v10.6h-4.16zM460.75 201.05h4.16v10.6h-4.16zM200.45 212.51h4.16v10.6h-4.16zM205.29 212.51h4.16v10.6h-4.16zM210.12 212.51h4.16v10.6h-4.16zM214.96 212.51h4.16v10.6h-4.16zM219.79 212.51h4.16v10.6h-4.16zM224.63 212.51h4.16v10.6h-4.16zM359.45 212.51h4.15v10.6h-4.15zM364.27 212.51h4.15v10.6h-4.15zM369.1 212.51h4.15v10.6h-4.15zM373.93 212.51h4.15v10.6h-4.15zM378.75 212.51h4.15v10.6h-4.15zM383.58 212.51h4.15v10.6h-4.15zM388.4 212.51h4.15v10.6h-4.15zM441.41 212.51h4.16v10.6h-4.16zM446.25 212.51h4.16v10.6h-4.16zM451.08 212.51h4.16v10.6h-4.16zM455.92 212.51h4.16v10.6h-4.16zM460.75 212.51h4.16v10.6h-4.16zM200.45 223.98h4.16v10.6h-4.16zM205.29 223.98h4.16v10.6h-4.16zM210.12 223.98h4.16v10.6h-4.16zM214.96 223.98h4.16v10.6h-4.16zM219.79 223.98h4.16v10.6h-4.16zM224.63 223.98h4.16v10.6h-4.16zM359.45 223.98h4.15v10.6h-4.15zM364.27 223.98h4.15v10.6h-4.15zM369.1 223.98h4.15v10.6h-4.15zM373.93 223.98h4.15v10.6h-4.15zM378.75 223.98h4.15v10.6h-4.15zM383.58 223.98h4.15v10.6h-4.15zM388.4 223.98h4.15v10.6h-4.15zM441.41 223.98h4.16v10.6h-4.16zM446.25 223.98h4.16v10.6h-4.16zM451.08 223.98h4.16v10.6h-4.16zM455.92 223.98h4.16v10.6h-4.16zM460.75 223.98h4.16v10.6h-4.16zM200.45 235.44h4.16v10.6h-4.16zM205.29 235.44h4.16v10.6h-4.16zM210.12 235.44h4.16v10.6h-4.16zM214.96 235.44h4.16v10.6h-4.16zM219.79 235.44h4.16v10.6h-4.16zM224.63 235.44h4.16v10.6h-4.16zM359.45 235.44h4.15v10.6h-4.15zM364.27 235.44h4.15v10.6h-4.15zM369.1 235.44h4.15v10.6h-4.15zM373.93 235.44h4.15v10.6h-4.15zM378.75 235.44h4.15v10.6h-4.15zM383.58 235.44h4.15v10.6h-4.15zM388.4 235.44h4.15v10.6h-4.15zM441.41 235.44h4.16v10.6h-4.16zM446.25 235.44h4.16v10.6h-4.16zM451.08 235.44h4.16v10.6h-4.16zM455.92 235.44h4.16v10.6h-4.16zM460.75 235.44h4.16v10.6h-4.16zM200.45 246.91h4.16v10.6h-4.16zM205.29 246.91h4.16v10.6h-4.16zM210.12 246.91h4.16v10.6h-4.16zM214.96 246.91h4.16v10.6h-4.16zM219.79 246.91h4.16v10.6h-4.16zM224.63 246.91h4.16v10.6h-4.16zM359.45 246.91h4.15v10.6h-4.15zM364.27 246.91h4.15v10.6h-4.15zM369.1 246.91h4.15v10.6h-4.15zM373.93 246.91h4.15v10.6h-4.15zM378.75 246.91h4.15v10.6h-4.15zM383.58 246.91h4.15v10.6h-4.15zM388.4 246.91h4.15v10.6h-4.15zM441.41 246.91h4.16v10.6h-4.16zM446.25 246.91h4.16v10.6h-4.16zM451.08 246.91h4.16v10.6h-4.16zM455.92 246.91h4.16v10.6h-4.16zM460.75 246.91h4.16v10.6h-4.16zM200.45 258.38h4.16v10.6h-4.16zM205.29 258.38h4.16v10.6h-4.16zM210.12 258.38h4.16v10.6h-4.16zM214.96 258.38h4.16v10.6h-4.16zM219.79 258.38h4.16v10.6h-4.16zM224.63 258.38h4.16v10.6h-4.16zM359.45 258.38h4.15v10.6h-4.15zM364.27 258.38h4.15v10.6h-4.15zM369.1 258.38h4.15v10.6h-4.15zM373.93 258.38h4.15v10.6h-4.15zM378.75 258.38h4.15v10.6h-4.15zM383.58 258.38h4.15v10.6h-4.15zM388.4 258.38h4.15v10.6h-4.15zM441.41 258.38h4.16v10.6h-4.16zM446.25 258.38h4.16v10.6h-4.16zM451.08 258.38h4.16v10.6h-4.16zM455.92 258.38h4.16v10.6h-4.16zM460.75 258.38h4.16v10.6h-4.16zM200.45 269.84h4.16v10.6h-4.16zM205.29 269.84h4.16v10.6h-4.16zM210.12 269.84h4.16v10.6h-4.16zM214.96 269.84h4.16v10.6h-4.16zM219.79 269.84h4.16v10.6h-4.16zM224.63 269.84h4.16v10.6h-4.16zM359.45 269.84h4.15v10.6h-4.15zM364.27 269.84h4.15v10.6h-4.15zM369.1 269.84h4.15v10.6h-4.15zM373.93 269.84h4.15v10.6h-4.15zM378.75 269.84h4.15v10.6h-4.15zM383.58 269.84h4.15v10.6h-4.15zM388.4 269.84h4.15v10.6h-4.15zM441.41 269.84h4.16v10.6h-4.16zM446.25 269.84h4.16v10.6h-4.16zM451.08 269.84h4.16v10.6h-4.16zM455.92 269.84h4.16v10.6h-4.16zM460.75 269.84h4.16v10.6h-4.16zM200.45 281.31h4.16v10.6h-4.16zM205.29 281.31h4.16v10.6h-4.16zM210.12 281.31h4.16v10.6h-4.16zM214.96 281.31h4.16v10.6h-4.16zM219.79 281.31h4.16v10.6h-4.16zM224.63 281.31h4.16v10.6h-4.16zM359.45 281.31h4.15v10.6h-4.15zM364.27 281.31h4.15v10.6h-4.15zM369.1 281.31h4.15v10.6h-4.15zM373.93 281.31h4.15v10.6h-4.15zM378.75 281.31h4.15v10.6h-4.15zM383.58 281.31h4.15v10.6h-4.15zM388.4 281.31h4.15v10.6h-4.15zM441.41 281.31h4.16v10.6h-4.16zM446.25 281.31h4.16v10.6h-4.16zM451.08 281.31h4.16v10.6h-4.16zM455.92 281.31h4.16v10.6h-4.16zM460.75 281.31h4.16v10.6h-4.16zM200.45 292.77h4.16v10.6h-4.16zM205.29 292.77h4.16v10.6h-4.16zM210.12 292.77h4.16v10.6h-4.16zM214.96 292.77h4.16v10.6h-4.16zM219.79 292.77h4.16v10.6h-4.16zM224.63 292.77h4.16v10.6h-4.16zM359.45 292.77h4.15v10.6h-4.15zM364.27 292.77h4.15v10.6h-4.15zM369.1 292.77h4.15v10.6h-4.15zM373.93 292.77h4.15v10.6h-4.15zM378.75 292.77h4.15v10.6h-4.15zM383.58 292.77h4.15v10.6h-4.15zM388.4 292.77h4.15v10.6h-4.15zM441.41 292.77h4.16v10.6h-4.16zM446.25 292.77h4.16v10.6h-4.16zM451.08 292.77h4.16v10.6h-4.16zM455.92 292.77h4.16v10.6h-4.16zM460.75 292.77h4.16v10.6h-4.16zM200.45 304.24h4.16v10.6h-4.16zM205.29 304.24h4.16v10.6h-4.16zM210.12 304.24h4.16v10.6h-4.16zM214.96 304.24h4.16v10.6h-4.16zM219.79 304.24h4.16v10.6h-4.16zM224.63 304.24h4.16v10.6h-4.16zM359.45 304.24h4.15v10.6h-4.15zM364.27 304.24h4.15v10.6h-4.15zM369.1 304.24h4.15v10.6h-4.15zM373.93 304.24h4.15v10.6h-4.15zM378.75 304.24h4.15v10.6h-4.15zM383.58 304.24h4.15v10.6h-4.15zM388.4 304.24h4.15v10.6h-4.15zM441.41 304.24h4.16v10.6h-4.16zM446.25 304.24h4.16v10.6h-4.16zM451.08 304.24h4.16v10.6h-4.16zM455.92 304.24h4.16v10.6h-4.16zM460.75 304.24h4.16v10.6h-4.16zM200.45 315.7h4.16v10.6h-4.16zM205.29 315.7h4.16v10.6h-4.16zM210.12 315.7h4.16v10.6h-4.16zM214.96 315.7h4.16v10.6h-4.16zM219.79 315.7h4.16v10.6h-4.16zM224.63 315.7h4.16v10.6h-4.16zM359.45 315.7h4.15v10.6h-4.15zM364.27 315.7h4.15v10.6h-4.15zM369.1 315.7h4.15v10.6h-4.15zM373.93 315.7h4.15v10.6h-4.15zM378.75 315.7h4.15v10.6h-4.15zM383.58 315.7h4.15v10.6h-4.15zM388.4 315.7h4.15v10.6h-4.15zM441.41 315.7h4.16v10.6h-4.16zM446.25 315.7h4.16v10.6h-4.16zM451.08 315.7h4.16v10.6h-4.16zM455.92 315.7h4.16v10.6h-4.16zM460.75 315.7h4.16v10.6h-4.16zM200.45 327.16h4.16v10.6h-4.16zM205.29 327.16h4.16v10.6h-4.16zM210.12 327.16h4.16v10.6h-4.16zM214.96 327.16h4.16v10.6h-4.16zM219.79 327.16h4.16v10.6h-4.16zM224.63 327.16h4.16v10.6h-4.16zM359.45 327.16h4.15v10.6h-4.15zM364.27 327.16h4.15v10.6h-4.15zM369.1 327.16h4.15v10.6h-4.15zM373.93 327.16h4.15v10.6h-4.15zM378.75 327.16h4.15v10.6h-4.15zM383.58 327.16h4.15v10.6h-4.15zM388.4 327.16h4.15v10.6h-4.15zM441.41 327.16h4.16v10.6h-4.16zM446.25 327.16h4.16v10.6h-4.16zM451.08 327.16h4.16v10.6h-4.16zM455.92 327.16h4.16v10.6h-4.16zM460.75 327.16h4.16v10.6h-4.16zM200.45 338.63h4.16v10.6h-4.16zM205.29 338.63h4.16v10.6h-4.16zM210.12 338.63h4.16v10.6h-4.16zM214.96 338.63h4.16v10.6h-4.16zM219.79 338.63h4.16v10.6h-4.16zM224.63 338.63h4.16v10.6h-4.16zM359.45 338.63h4.15v10.6h-4.15zM364.27 338.63h4.15v10.6h-4.15zM369.1 338.63h4.15v10.6h-4.15zM373.93 338.63h4.15v10.6h-4.15zM378.75 338.63h4.15v10.6h-4.15zM383.58 338.63h4.15v10.6h-4.15zM388.4 338.63h4.15v10.6h-4.15zM441.41 338.63h4.16v10.6h-4.16zM446.25 338.63h4.16v10.6h-4.16zM451.08 338.63h4.16v10.6h-4.16zM455.92 338.63h4.16v10.6h-4.16zM460.75 338.63h4.16v10.6h-4.16zM200.45 350.1h4.16v10.6h-4.16zM205.29 350.1h4.16v10.6h-4.16zM210.12 350.1h4.16v10.6h-4.16zM214.96 350.1h4.16v10.6h-4.16zM219.79 350.1h4.16v10.6h-4.16zM224.63 350.1h4.16v10.6h-4.16zM359.45 350.1h4.15v10.6h-4.15zM364.27 350.1h4.15v10.6h-4.15zM369.1 350.1h4.15v10.6h-4.15zM373.93 350.1h4.15v10.6h-4.15zM378.75 350.1h4.15v10.6h-4.15zM383.58 350.1h4.15v10.6h-4.15zM388.4 350.1h4.15v10.6h-4.15zM441.41 350.1h4.16v10.6h-4.16zM446.25 350.1h4.16v10.6h-4.16zM451.08 350.1h4.16v10.6h-4.16zM455.92 350.1h4.16v10.6h-4.16zM460.75 350.1h4.16v10.6h-4.16zM200.45 361.56h4.16v10.6h-4.16zM205.29 361.56h4.16v10.6h-4.16zM210.12 361.56h4.16v10.6h-4.16zM214.96 361.56h4.16v10.6h-4.16zM219.79 361.56h4.16v10.6h-4.16zM224.63 361.56h4.16v10.6h-4.16zM359.45 361.56h4.15v10.6h-4.15zM364.27 361.56h4.15v10.6h-4.15zM369.1 361.56h4.15v10.6h-4.15zM373.93 361.56h4.15v10.6h-4.15zM378.75 361.56h4.15v10.6h-4.15zM383.58 361.56h4.15v10.6h-4.15zM388.4 361.56h4.15v10.6h-4.15zM441.41 361.56h4.16v10.6h-4.16zM446.25 361.56h4.16v10.6h-4.16zM451.08 361.56h4.16v10.6h-4.16zM455.92 361.56h4.16v10.6h-4.16zM460.75 361.56h4.16v10.6h-4.16zM200.45 373.02h4.16v10.6h-4.16zM205.29 373.02h4.16v10.6h-4.16zM210.12 373.02h4.16v10.6h-4.16zM214.96 373.02h4.16v10.6h-4.16zM219.79 373.02h4.16v10.6h-4.16zM224.63 373.02h4.16v10.6h-4.16zM359.45 373.02h4.15v10.6h-4.15zM364.27 373.02h4.15v10.6h-4.15zM369.1 373.02h4.15v10.6h-4.15zM373.93 373.02h4.15v10.6h-4.15zM378.75 373.02h4.15v10.6h-4.15zM383.58 373.02h4.15v10.6h-4.15zM388.4 373.02h4.15v10.6h-4.15zM441.41 373.02h4.16v10.6h-4.16zM446.25 373.02h4.16v10.6h-4.16zM451.08 373.02h4.16v10.6h-4.16zM455.92 373.02h4.16v10.6h-4.16zM460.75 373.02h4.16v10.6h-4.16zM200.45 384.49h4.16v10.6h-4.16zM205.29 384.49h4.16v10.6h-4.16zM210.12 384.49h4.16v10.6h-4.16zM214.96 384.49h4.16v10.6h-4.16zM219.79 384.49h4.16v10.6h-4.16zM224.63 384.49h4.16v10.6h-4.16zM359.45 384.49h4.15v10.6h-4.15zM364.27 384.49h4.15v10.6h-4.15zM369.1 384.49h4.15v10.6h-4.15zM373.93 384.49h4.15v10.6h-4.15zM378.75 384.49h4.15v10.6h-4.15zM383.58 384.49h4.15v10.6h-4.15zM388.4 384.49h4.15v10.6h-4.15zM441.41 384.49h4.16v10.6h-4.16zM446.25 384.49h4.16v10.6h-4.16zM451.08 384.49h4.16v10.6h-4.16zM455.92 384.49h4.16v10.6h-4.16zM460.75 384.49h4.16v10.6h-4.16zM200.45 395.96h4.16v10.6h-4.16zM205.29 395.96h4.16v10.6h-4.16zM210.12 395.96h4.16v10.6h-4.16zM214.96 395.96h4.16v10.6h-4.16zM219.79 395.96h4.16v10.6h-4.16zM224.63 395.96h4.16v10.6h-4.16zM359.45 395.96h4.15v10.6h-4.15zM364.27 395.96h4.15v10.6h-4.15zM369.1 395.96h4.15v10.6h-4.15zM373.93 395.96h4.15v10.6h-4.15zM378.75 395.96h4.15v10.6h-4.15zM383.58 395.96h4.15v10.6h-4.15zM388.4 395.96h4.15v10.6h-4.15zM441.41 395.96h4.16v10.6h-4.16zM446.25 395.96h4.16v10.6h-4.16zM451.08 395.96h4.16v10.6h-4.16zM455.92 395.96h4.16v10.6h-4.16zM460.75 395.96h4.16v10.6h-4.16zM200.45 407.42h4.16v10.6h-4.16zM205.29 407.42h4.16v10.6h-4.16zM210.12 407.42h4.16v10.6h-4.16zM214.96 407.42h4.16v10.6h-4.16zM219.79 407.42h4.16v10.6h-4.16zM224.63 407.42h4.16v10.6h-4.16zM359.45 407.42h4.15v10.6h-4.15zM364.27 407.42h4.15v10.6h-4.15zM369.1 407.42h4.15v10.6h-4.15zM373.93 407.42h4.15v10.6h-4.15zM378.75 407.42h4.15v10.6h-4.15zM383.58 407.42h4.15v10.6h-4.15zM388.4 407.42h4.15v10.6h-4.15zM441.41 407.42h4.16v10.6h-4.16zM446.25 407.42h4.16v10.6h-4.16zM451.08 407.42h4.16v10.6h-4.16zM455.92 407.42h4.16v10.6h-4.16zM460.75 407.42h4.16v10.6h-4.16zM200.45 418.88h4.16v10.6h-4.16zM205.29 418.88h4.16v10.6h-4.16zM210.12 418.88h4.16v10.6h-4.16zM214.96 418.88h4.16v10.6h-4.16zM219.79 418.88h4.16v10.6h-4.16zM224.63 418.88h4.16v10.6h-4.16zM359.45 418.88h4.15v10.6h-4.15zM364.27 418.88h4.15v10.6h-4.15zM369.1 418.88h4.15v10.6h-4.15zM373.93 418.88h4.15v10.6h-4.15zM378.75 418.88h4.15v10.6h-4.15zM383.58 418.88h4.15v10.6h-4.15zM388.4 418.88h4.15v10.6h-4.15zM441.41 418.88h4.16v10.6h-4.16zM446.25 418.88h4.16v10.6h-4.16zM451.08 418.88h4.16v10.6h-4.16zM455.92 418.88h4.16v10.6h-4.16zM460.75 418.88h4.16v10.6h-4.16zM200.45 430.35h4.16v10.6h-4.16zM205.29 430.35h4.16v10.6h-4.16zM210.12 430.35h4.16v10.6h-4.16zM214.96 430.35h4.16v10.6h-4.16zM219.79 430.35h4.16v10.6h-4.16zM224.63 430.35h4.16v10.6h-4.16zM359.45 430.35h4.15v10.6h-4.15zM364.27 430.35h4.15v10.6h-4.15zM369.1 430.35h4.15v10.6h-4.15zM373.93 430.35h4.15v10.6h-4.15zM378.75 430.35h4.15v10.6h-4.15zM383.58 430.35h4.15v10.6h-4.15zM388.4 430.35h4.15v10.6h-4.15zM441.41 430.35h4.16v10.6h-4.16zM446.25 430.35h4.16v10.6h-4.16zM451.08 430.35h4.16v10.6h-4.16zM455.92 430.35h4.16v10.6h-4.16zM460.75 430.35h4.16v10.6h-4.16zM200.45 441.82h4.16v10.6h-4.16zM205.29 441.82h4.16v10.6h-4.16zM210.12 441.82h4.16v10.6h-4.16zM214.96 441.82h4.16v10.6h-4.16zM219.79 441.82h4.16v10.6h-4.16zM224.63 441.82h4.16v10.6h-4.16zM359.45 441.82h4.15v10.6h-4.15zM364.27 441.82h4.15v10.6h-4.15zM369.1 441.82h4.15v10.6h-4.15zM373.93 441.82h4.15v10.6h-4.15zM378.75 441.82h4.15v10.6h-4.15zM383.58 441.82h4.15v10.6h-4.15zM388.4 441.82h4.15v10.6h-4.15zM441.41 441.82h4.16v10.6h-4.16zM446.25 441.82h4.16v10.6h-4.16zM451.08 441.82h4.16v10.6h-4.16zM455.92 441.82h4.16v10.6h-4.16zM460.75 441.82h4.16v10.6h-4.16zM200.45 453.28h4.16v10.6h-4.16zM205.29 453.28h4.16v10.6h-4.16zM210.12 453.28h4.16v10.6h-4.16zM214.96 453.28h4.16v10.6h-4.16zM219.79 453.28h4.16v10.6h-4.16zM224.63 453.28h4.16v10.6h-4.16zM359.45 453.28h4.15v10.6h-4.15zM364.27 453.28h4.15v10.6h-4.15zM369.1 453.28h4.15v10.6h-4.15zM373.93 453.28h4.15v10.6h-4.15zM378.75 453.28h4.15v10.6h-4.15zM383.58 453.28h4.15v10.6h-4.15zM388.4 453.28h4.15v10.6h-4.15zM441.41 453.28h4.16v10.6h-4.16zM446.25 453.28h4.16v10.6h-4.16zM451.08 453.28h4.16v10.6h-4.16zM455.92 453.28h4.16v10.6h-4.16zM460.75 453.28h4.16v10.6h-4.16z"/>
<path fill="#0d5392" d="M234 86.4h4.15v10.6h-4.15zM397.9 86.4h4.16v10.6h-4.16z"/>
<path fill="#1468ab" d="M238.82 86.4h4.15v10.6h-4.15zM243.65 86.4h4.15v10.6h-4.15z"/>
<path fill="#aeb0b3" d="M67.3 132.26h69.3v10.6h-69.3zM67.3 143.73h69.3v10.6h-69.3zM67.3 155.19h69.3v10.6h-69.3zM67.3 166.66h69.3v10.6h-69.3zM67.3 178.12h69.3v10.6h-69.3zM67.3 189.59h69.3v10.6h-69.3zM67.3 235.44h69.3v10.6h-69.3zM67.3 246.91h69.3v10.6h-69.3zM67.3 258.38h69.3v10.6h-69.3zM67.3 269.84h69.3v10.6h-69.3zM67.3 304.24h69.3v10.6h-69.3zM67.3 315.7h69.3v10.6h-69.3zM67.3 361.56h69.3v10.6h-69.3zM67.3 373.02h69.3v10.6h-69.3zM67.3 384.49h69.3v10.6h-69.3zM67.3 395.96h69.3v10.6h-69.3zM67.3 407.42h69.3v10.6h-69.3zM67.3 418.88h69.3v10.6h-69.3zM67.3 430.35h69.3v10.6h-69.3zM67.3 441.82h69.3v10.6h-69.3zM67.3 453.28h69.3v10.6h-69.3z"/>
<path fill="#a9abae" d="M137.6 132.26h4.16v10.6h-4.16zM142.44 132.26h4.16v10.6h-4.16zM147.27 132.26h4.16v10.6h-4.16zM152.1 132.26h4.16v10.6h-4.16zM156.94 132.26h4.16v10.6h-4.16zM161.78 132.26h4.16v10.6h-4.16zM166.61 132.26h4.16v10.6h-4.16zM171.44 132.26h4.16v10.6h-4.16zM176.28 132.26h4.16v10.6h-4.16zM181.12 132.26h4.16v10.6h-4.16zM185.95 132.26h4.16v10.6h-4.16zM190.78 132.26h4.16v10.6h-4.16zM195.62 132.26h4.16v10.6h-4.16zM234 132.26h4.15v10.6h-4.15zM238.82 132.26h4.15v10.6h-4.15zM243.65 132.26h4.15v10.6h-4.15zM267.77 132.26h4.15v10.6h-4.15zM272.6 132.26h4.15v10.6h-4.15zM277.43 132.26h4.15v10.6h-4.15zM282.25 132.26h4.15v10.6h-4.15zM287.07 132.26h4.15v10.6h-4.15zM291.9 132.26h4.15v10.6h-4.15zM296.73 132.26h4.15v10.6h-4.15zM306.38 132.26h4.15v10.6h-4.15zM311.2 132.26h4.15v10.6h-4.15zM316.02 132.26h4.15v10.6h-4.15zM320.85 132.26h4.15v10.6h-4.15zM325.68 132.26h4.15v10.6h-4.15zM330.5 132.26h4.15v10.6h-4.15zM340.15 132.26h4.15v10.6h-4.15zM344.98 132.26h4.15v10.6h-4.15zM349.8 132.26h4.15v10.6h-4.15zM354.62 132.26h4.15v10.6h-4.15zM407.57 132.26h4.16v10.6h-4.16zM417.24 132.26h4.16v10.6h-4.16zM422.07 132.26h4.16v10.6h-4.16zM431.75 132.26h4.16v10.6h-4.16zM436.58 132.26h4.16v10.6h-4.16zM137.6 143.73h4.16v10.6h-4.16zM142.44 143.73h4.16v10.6h-4.16zM147.27 143.73h4.16v10.6h-4.16zM152.1 143.73h4.16v10.6h-4.16zM156.94 143.73h4.16v10.6h-4.16zM161.78 143.73h4.16v10.6h-4.16zM166.61 143.73h4.16v10.6h-4.16zM171.44 143.73h4.16v10.6h-4.16zM176.28 143.73h4.16v10.6h-4.16zM181.12 143.73h4.16v10.6h-4.16zM185.95 143.73h4.16v10.6h-4.16zM190.78 143.73h4.16v10.6h-4.16zM195.62 143.73h4.16v10.6h-4.16zM234 143.73h4.15v10.6h-4.15zM238.82 143.73h4.15v10.6h-4.15zM243.65 143.73h4.15v10.6h-4.15zM248.47 143.73h4.15v10.6h-4.15zM253.3 143.73h4.15v10.6h-4.15zM258.12 143.73h4.15v10.6h-4.15zM262.95 143.73h4.15v10.6h-4.15zM267.77 143.73h4.15v10.6h-4.15zM272.6 143.73h4.15v10.6h-4.15zM277.43 143.73h4.15v10.6h-4.15zM282.25 143.73h4.15v10.6h-4.15zM287.07 143.73h4.15v10.6h-4.15zM291.9 143.73h4.15v10.6h-4.15zM296.73 143.73h4.15v10.6h-4.15zM301.55 143.73h4.15v10.6h-4.15zM311.2 143.73h4.15v10.6h-4.15zM316.02 143.73h4.15v10.6h-4.15zM320.85 143.73h4.15v10.6h-4.15zM325.68 143.73h4.15v10.6h-4.15zM330.5 143.73h4.15v10.6h-4.15zM335.32 143.73h4.15v10.6h-4.15zM340.15 143.73h4.15v10.6h-4.15zM344.98 143.73h4.15v10.6h-4.15zM349.8 143.73h4.15v10.6h-4.15zM354.62 143.73h4.15v10.6h-4.15zM397.9 143.73h4.16v10.6h-4.16zM402.73 143.73h4.16v10.6h-4.16zM407.57 143.73h4.16v10.6h-4.16zM412.4 143.73h4.16v10.6h-4.16zM417.24 143.73h4.16v10.6h-4.16zM422.07 143.73h4.16v10.6h-4.16zM426.91 143.73h4.16v10.6h-4.16zM431.75 143.73h4.16v10.6h-4.16zM436.58 143.73h4.16v10.6h-4.16zM137.6 155.19h4.16v10.6h-4.16zM142.44 155.19h4.16v10.6h-4.16zM147.27 155.19h4.16v10.6h-4.16zM152.1 155.19h4.16v10.6h-4.16zM156.94 155.19h4.16v10.6h-4.16zM161.78 155.19h4.16v10.6h-4.16zM166.61 155.19h4.16v10.6h-4.16zM171.44 155.19h4.16v10.6h-4.16zM176.28 155.19h4.16v10.6h-4.16zM181.12 155.19h4.16v10.6h-4.16zM185.95 155.19h4.16v10.6h-4.16zM190.78 155.19h4.16v10.6h-4.16zM195.62 155.19h4.16v10.6h-4.16zM234 155.19h4.15v10.6h-4.15zM238.82 155.19h4.15v10.6h-4.15zM243.65 155.19h4.15v10.6h-4.15zM248.47 155.19h4.15v10.6h-4.15zM253.3 155.19h4.15v10.6h-4.15zM258.12 155.19h4.15v10.6h-4.15zM262.95 155.19h4.15v10.6h-4.15zM267.77 155.19h4.15v10.6h-4.15zM272.6 155.19h4.15v10.6h-4.15zM277.43 155.19h4.15v10.6h-4.15zM282.25 155.19h4.15v10.6h-4.15zM287.07 155.19h4.15v10.6h-4.15zM291.9 155.19h4.15v10.6h-4.15zM296.73 155.19h4.15v10.6h-4.15zM301.55 155.19h4.15v10.6h-4.15zM306.38 155.19h4.15v10.6h-4.15zM311.2 155.19h4.15v10.6h-4.15zM316.02 155.19h4.15v10.6h-4.15zM320.85 155.19h4.15v10.6h-4.15zM325.68 155.19h4.15v10.6h-4.15zM330.5 155.19h4.15v10.6h-4.15zM335.32 155.19h4.15v10.6h-4.15zM344.98 155.19h4.15v10.6h-4.15zM349.8 155.19h4.15v10.6h-4.15zM354.62 155.19h4.15v10.6h-4.15zM397.9 155.19h4.16v10.6h-4.16zM402.73 155.19h4.16v10.6h-4.16zM407.57 155.19h4.16v10.6h-4.16zM412.4 155.19h4.16v10.6h-4.16zM417.24 155.19h4.16v10.6h-4.16zM422.07 155.19h4.16v10.6h-4.16zM426.91 155.19h4.16v10.6h-4.16zM436.58 155.19h4.16v10.6h-4.16zM142.44 166.66h4.16v10.6h-4.16zM147.27 166.66h4.16v10.6h-4.16zM152.1 166.66h4.16v10.6h-4.16zM156.94 166.66h4.16v10.6h-4.16zM161.78 166.66h4.16v10.6h-4.16zM166.61 166.66h4.16v10.6h-4.16zM171.44 166.66h4.16v10.6h-4.16zM176.28 166.66h4.16v10.6h-4.16zM181.12 166.66h4.16v10.6h-4.16zM185.95 166.66h4.16v10.6h-4.16zM190.78 166.66h4.16v10.6h-4.16zM195.62 166.66h4.16v10.6h-4.16zM234 166.66h4.15v10.6h-4.15zM238.82 166.66h4.15v10.6h-4.15zM243.65 166.66h4.15v10.6h-4.15zM248.47 166.66h4.15v10.6h-4.15zM253.3 166.66h4.15v10.6h-4.15zM258.12 166.66h4.15v10.6h-4.15zM262.95 166.66h4.15v10.6h-4.15zM267.77 166.66h4.15v10.6h-4.15zM272.6 166.66h4.15v10.6h-4.15zM277.43 166.66h4.15v10.6h-4.15zM282.25 166.66h4.15v10.6h-4.15zM287.07 166.66h4.15v10.6h-4.15zM291.9 166.66h4.15v10.6h-4.15zM296.73 166.66h4.15v10.6h-4.15zM301.55 166.66h4.15v10.6h-4.15zM306.38 166.66h4.15v10.6h-4.15zM311.2 166.66h4.15v10.6h-4.15zM316.02 166.66h4.15v10.6h-4.15zM320.85 166.66h4.15v10.6h-4.15zM325.68 166.66h4.15v10.6h-4.15zM330.5 166.66h4.15v10.6h-4.15zM335.32 166.66h4.15v10.6h-4.15zM340.15 166.66h4.15v10.6h-4.15zM344.98 166.66h4.15v10.6h-4.15zM349.8 166.66h4.15v10.6h-4.15zM354.62 166.66h4.15v10.6h-4.15zM397.9 166.66h4.16v10.6h-4.16zM407.57 166.66h4.16v10.6h-4.16zM412.4 166.66h4.16v10.6h-4.16zM417.24 166.66h4.16v10.6h-4.16zM422.07 166.66h4.16v10.6h-4.16zM426.91 166.66h4.16v10.6h-4.16zM431.75 166.66h4.16v10.6h-4.16zM436.58 166.66h4.16v10.6h-4.16zM137.6 178.12h4.16v10.6h-4.16zM142.44 178.12h4.16v10.6h-4.16zM147.27 178.12h4.16v10.6h-4.16zM152.1 178.12h4.16v10.6h-4.16zM156.94 178.12h4.16v10.6h-4.16zM161.78 178.12h4.16v10.6h-4.16zM166.61 178.12h4.16v10.6h-4.16zM171.44 178.12h4.16v10.6h-4.16zM176.28 178.12h4.16v10.6h-4.16zM181.12 178.12h4.16v10.6h-4.16zM185.95 178.12h4.16v10.6h-4.16zM190.78 178.12h4.16v10.6h-4.16zM195.62 178.12h4.16v10.6h-4.16zM234 178.12h4.15v10.6h-4.15zM238.82 178.12h4.15v10.6h-4.15zM243.65 178.12h4.15v10.6h-4.15zM248.47 178.12h4.15v10.6h-4.15zM253.3 178.12h4.15v10.6h-4.15zM262.95 178.12h4.15v10.6h-4.15zM267.77 178.12h4.15v10.6h-4.15zM272.6 178.12h4.15v10.6h-4.15zM277.43 178.12h4.15v10.6h-4.15zM282.25 178.12h4.15v10.6h-4.15zM287.07 178.12h4.15v10.6h-4.15zM291.9 178.12h4.15v10.6h-4.15zM296.73 178.12h4.15v10.6h-4.15zM301.55 178.12h4.15v10.6h-4.15zM306.38 178.12h4.15v10.6h-4.15zM311.2 178.12h4.15v10.6h-4.15zM316.02 178.12h4.15v10.6h-4.15zM320.85 178.12h4.15v10.6h-4.15zM325.68 178.12h4.15v10.6h-4.15zM330.5 178.12h4.15v10.6h-4.15zM335.32 178.12h4.15v10.6h-4.15zM340.15 178.12h4.15v10.6h-4.15zM344.98 178.12h4.15v10.6h-4.15zM349.8 178.12h4.15v10.6h-4.15zM354.62 178.12h4.15v10.6h-4.15zM397.9 178.12h4.16v10.6h-4.16zM402.73 178.12h4.16v10.6h-4.16zM407.57 178.12h4.16v10.6h-4.16zM412.4 178.12h4.16v10.6h-4.16zM417.24 178.12h4.16v10.6h-4.16zM422.07 178.12h4.16v10.6h-4.16zM426.91 178.12h4.16v10.6h-4.16zM431.75 178.12h4.16v10.6h-4.16zM436.58 178.12h4.16v10.6h-4.16zM137.6 189.59h4.16v10.6h-4.16zM142.44 189.59h4.16v10.6h-4.16zM147.27 189.59h4.16v10.6h-4.16zM152.1 189.59h4.16v10.6h-4.16zM156.94 189.59h4.16v10.6h-4.16zM161.78 189.59h4.16v10.6h-4.16zM166.61 189.59h4.16v10.6h-4.16zM171.44 189.59h4.16v10.6h-4.16zM176.28 189.59h4.16v10.6h-4.16zM181.12 189.59h4.16v10.6h-4.16zM185.95 189.59h4.16v10.6h-4.16zM190.78 189.59h4.16v10.6h-4.16zM195.62 189.59h4.16v10.6h-4.16zM234 189.59h4.15v10.6h-4.15zM238.82 189.59h4.15v10.6h-4.15zM243.65 189.59h4.15v10.6h-4.15zM248.47 189.59h4.15v10.6h-4.15zM253.3 189.59h4.15v10.6h-4.15zM258.12 189.59h4.15v10.6h-4.15zM262.95 189.59h4.15v10.6h-4.15zM267.77 189.59h4.15v10.6h-4.15zM272.6 189.59h4.15v10.6h-4.15zM277.43 189.59h4.15v10.6h-4.15zM282.25 189.59h4.15v10.6h-4.15zM291.9 189.59h4.15v10.6h-4.15zM296.73 189.59h4.15v10.6h-4.15zM301.55 189.59h4.15v10.6h-4.15zM306.38 189.59h4.15v10.6h-4.15zM311.2 189.59h4.15v10.6h-4.15zM316.02 189.59h4.15v10.6h-4.15zM320.85 189.59h4.15v10.6h-4.15zM325.68 189.59h4.15v10.6h-4.15zM330.5 189.59h4.15v10.6h-4.15zM335.32 189.59h4.15v10.6h-4.15zM340.15 189.59h4.15v10.6h-4.15zM344.98 189.59h4.15v10.6h-4.15zM349.8 189.59h4.15v10.6h-4.15zM354.62 189.59h4.15v10.6h-4.15zM397.9 189.59h4.16v10.6h-4.16zM402.73 189.59h4.16v10.6h-4.16zM407.57 189.59h4.16v10.6h-4.16zM412.4 189.59h4.16v10.6h-4.16zM417.24 189.59h4.16v10.6h-4.16zM422.07 189.59h4.16v10.6h-4.16zM426.91 189.59h4.16v10.6h-4.16zM431.75 189.59h4.16v10.6h-4.16zM436.58 189.59h4.16v10.6h-4.16zM137.6 235.44h4.16v10.6h-4.16zM142.44 235.44h4.16v10.6h-4.16zM147.27 235.44h4.16v10.6h-4.16zM152.1 235.44h4.16v10.6h-4.16zM161.78 235.44h4.16v10.6h-4.16zM166.61 235.44h4.16v10.6h-4.16zM171.44 235.44h4.16v10.6h-4.16zM176.28 235.44h4.16v10.6h-4.16zM181.12 235.44h4.16v10.6h-4.16zM185.95 235.44h4.16v10.6h-4.16zM190.78 235.44h4.16v10.6h-4.16zM195.62 235.44h4.16v10.6h-4.16zM234 235.44h4.15v10.6h-4.15zM238.82 235.44h4.15v10.6h-4.15zM243.65 235.44h4.15v10.6h-4.15zM248.47 235.44h4.15v10.6h-4.15zM253.3 235.44h4.15v10.6h-4.15zM258.12 235.44h4.15v10.6h-4.15zM262.95 235.44h4.15v10.6h-4.15zM267.77 235.44h4.15v10.6h-4.15zM272.6 235.44h4.15v10.6h-4.15zM277.43 235.44h4.15v10.6h-4.15zM282.25 235.44h4.15v10.6h-4.15zM287.07 235.44h4.15v10.6h-4.15zM291.9 235.44h4.15v10.6h-4.15zM296.73 235.44h4.15v10.6h-4.15zM301.55 235.44h4.15v10.6h-4.15zM306.38 235.44h4.15v10.6h-4.15zM311.2 235.44h4.15v10.6h-4.15zM316.02 235.44h4.15v10.6h-4.15zM320.85 235.44h4.15v10.6h-4.15zM325.68 235.44h4.15v10.6h-4.15zM330.5 235.44h4.15v10.6h-4.15zM335.32 235.44h4.15v10.6h-4.15zM340.15 235.44h4.15v10.6h-4.15zM344.98 235.44h4.15v10.6h-4.15zM349.8 235.44h4.15v10.6h-4.15zM354.62 235.44h4.15v10.6h-4.15zM397.9 235.44h4.16v10.6h-4.16zM402.73 235.44h4.16v10.6h-4.16zM407.57 235.44h4.16v10.6h-4.16zM412.4 235.44h4.16v10.6h-4.16zM417.24 235.44h4.16v10.6h-4.16zM422.07 235.44h4.16v10.6h-4.16zM426.91 235.44h4.16v10.6h-4.16zM436.58 235.44h4.16v10.6h-4.16zM137.6 246.91h4.16v10.6h-4.16zM142.44 246.91h4.16v10.6h-4.16zM147.27 246.91h4.16v10.6h-4.16zM152.1 246.91h4.16v10.6h-4.16zM156.94 246.91h4.16v10.6h-4.16zM166.61 246.91h4.16v10.6h-4.16zM171.44 246.91h4.16v10.6h-4.16zM181.12 246.91h4.16v10.6h-4.16zM185.95 246.91h4.16v10.6h-4.16zM190.78 246.91h4.16v10.6h-4.16zM195.62 246.91h4.16v10.6h-4.16zM234 246.91h4.15v10.6h-4.15zM238.82 246.91h4.15v10.6h-4.15zM243.65 246.91h4.15v10.6h-4.15zM248.47 246.91h4.15v10.6h-4.15zM253.3 246.91h4.15v10.6h-4.15zM258.12 246.91h4.15v10.6h-4.15zM262.95 246.91h4.15v10.6h-4.15zM267.77 246.91h4.15v10.6h-4.15zM272.6 246.91h4.15v10.6h-4.15zM282.25 246.91h4.15v10.6h-4.15zM291.9 246.91h4.15v10.6h-4.15zM301.55 246.91h4.15v10.6h-4.15zM306.38 246.91h4.15v10.6h-4.15zM311.2 246.91h4.15v10.6h-4.15zM316.02 246.91h4.15v10.6h-4.15zM325.68 246.91h4.15v10.6h-4.15zM330.5 246.91h4.15v10.6h-4.15zM335.32 246.91h4.15v10.6h-4.15zM344.98 246.91h4.15v10.6h-4.15zM349.8 246.91h4.15v10.6h-4.15zM354.62 246.91h4.15v10.6h-4.15zM397.9 246.91h4.16v10.6h-4.16zM407.57 246.91h4.16v10.6h-4.16zM412.4 246.91h4.16v10.6h-4.16zM417.24 246.91h4.16v10.6h-4.16zM422.07 246.91h4.16v10.6h-4.16zM426.91 246.91h4.16v10.6h-4.16zM431.75 246.91h4.16v10.6h-4.16zM436.58 246.91h4.16v10.6h-4.16zM137.6 258.38h4.16v10.6h-4.16zM142.44 258.38h4.16v10.6h-4.16zM147.27 258.38h4.16v10.6h-4.16zM152.1 258.38h4.16v10.6h-4.16zM156.94 258.38h4.16v10.6h-4.16zM161.78 258.38h4.16v10.6h-4.16zM166.61 258.38h4.16v10.6h-4.16zM171.44 258.38h4.16v10.6h-4.16zM176.28 258.38h4.16v10.6h-4.16zM181.12 258.38h4.16v10.6h-4.16zM185.95 258.38h4.16v10.6h-4.16zM190.78 258.38h4.16v10.6h-4.16zM195.62 258.38h4.16v10.6h-4.16zM234 258.38h4.15v10.6h-4.15zM238.82 258.38h4.15v10.6h-4.15zM243.65 258.38h4.15v10.6h-4.15zM248.47 258.38h4.15v10.6h-4.15zM253.3 258.38h4.15v10.6h-4.15zM262.95 258.38h4.15v10.6h-4.15zM267.77 258.38h4.15v10.6h-4.15zM272.6 258.38h4.15v10.6h-4.15zM277.43 258.38h4.15v10.6h-4.15zM282.25 258.38h4.15v10.6h-4.15zM287.07 258.38h4.15v10.6h-4.15zM291.9 258.38h4.15v10.6h-4.15zM296.73 258.38h4.15v10.6h-4.15zM301.55 258.38h4.15v10.6h-4.15zM306.38 258.38h4.15v10.6h-4.15zM316.02 258.38h4.15v10.6h-4.15zM320.85 258.38h4.15v10.6h-4.15zM325.68 258.38h4.15v10.6h-4.15zM330.5 258.38h4.15v10.6h-4.15zM335.32 258.38h4.15v10.6h-4.15zM340.15 258.38h4.15v10.6h-4.15zM344.98 258.38h4.15v10.6h-4.15zM349.8 258.38h4.15v10.6h-4.15zM354.62 258.38h4.15v10.6h-4.15zM397.9 258.38h4.16v10.6h-4.16zM402.73 258.38h4.16v10.6h-4.16zM407.57 258.38h4.16v10.6h-4.16zM412.4 258.38h4.16v10.6h-4.16zM417.24 258.38h4.16v10.6h-4.16zM422.07 258.38h4.16v10.6h-4.16zM426.91 258.38h4.16v10.6h-4.16zM431.75 258.38h4.16v10.6h-4.16zM436.58 258.38h4.16v10.6h-4.16zM142.44 269.84h4.16v10.6h-4.16zM147.27 269.84h4.16v10.6h-4.16zM156.94 269.84h4.16v10.6h-4.16zM161.78 269.84h4.16v10.6h-4.16zM166.61 269.84h4.16v10.6h-4.16zM171.44 269.84h4.16v10.6h-4.16zM176.28 269.84h4.16v10.6h-4.16zM181.12 269.84h4.16v10.6h-4.16zM185.95 269.84h4.16v10.6h-4.16zM190.78 269.84h4.16v10.6h-4.16zM195.62 269.84h4.16v10.6h-4.16zM234 269.84h4.15v10.6h-4.15zM238.82 269.84h4.15v10.6h-4.15zM243.65 269.84h4.15v10.6h-4.15zM248.47 269.84h4.15v10.6h-4.15zM253.3 269.84h4.15v10.6h-4.15zM258.12 269.84h4.15v10.6h-4.15zM267.77 269.84h4.15v10.6h-4.15zM277.43 269.84h4.15v10.6h-4.15zM282.25 269.84h4.15v10.6h-4.15zM287.07 269.84h4.15v10.6h-4.15zM291.9 269.84h4.15v10.6h-4.15zM296.73 269.84h4.15v10.6h-4.15zM301.55 269.84h4.15v10.6h-4.15zM306.38 269.84h4.15v10.6h-4.15zM311.2 269.84h4.15v10.6h-4.15zM316.02 269.84h4.15v10.6h-4.15zM320.85 269.84h4.15v10.6h-4.15zM325.68 269.84h4.15v10.6h-4.15zM330.5 269.84h4.15v10.6h-4.15zM335.32 269.84h4.15v10.6h-4.15zM344.98 269.84h4.15v10.6h-4.15zM349.8 269.84h4.15v10.6h-4.15zM354.62 269.84h4.15v10.6h-4.15zM397.9 269.84h4.16v10.6h-4.16zM402.73 269.84h4.16v10.6h-4.16zM407.57 269.84h4.16v10.6h-4.16zM412.4 269.84h4.16v10.6h-4.16zM417.24 269.84h4.16v10.6h-4.16zM422.07 269.84h4.16v10.6h-4.16zM426.91 269.84h4.16v10.6h-4.16zM431.75 269.84h4.16v10.6h-4.16zM436.58 269.84h4.16v10.6h-4.16zM137.6 304.24h4.16v10.6h-4.16zM142.44 304.24h4.16v10.6h-4.16zM147.27 304.24h4.16v10.6h-4.16zM152.1 304.24h4.16v10.6h-4.16zM156.94 304.24h4.16v10.6h-4.16zM161.78 304.24h4.16v10.6h-4.16zM166.61 304.24h4.16v10.6h-4.16zM171.44 304.24h4.16v10.6h-4.16zM176.28 304.24h4.16v10.6h-4.16zM185.95 304.24h4.16v10.6h-4.16zM190.78 304.24h4.16v10.6h-4.16zM195.62 304.24h4.16v10.6h-4.16zM234 304.24h4.15v10.6h-4.15zM238.82 304.24h4.15v10.6h-4.15zM243.65 304.24h4.15v10.6h-4.15zM248.47 304.24h4.15v10.6h-4.15zM253.3 304.24h4.15v10.6h-4.15zM262.95 304.24h4.15v10.6h-4.15zM267.77 304.24h4.15v10.6h-4.15zM272.6 304.24h4.15v10.6h-4.15zM277.43 304.24h4.15v10.6h-4.15zM282.25 304.24h4.15v10.6h-4.15zM287.07 304.24h4.15v10.6h-4.15zM291.9 304.24h4.15v10.6h-4.15zM296.73 304.24h4.15v10.6h-4.15zM301.55 304.24h4.15v10.6h-4.15zM306.38 304.24h4.15v10.6h-4.15zM311.2 304.24h4.15v10.6h-4.15zM316.02 304.24h4.15v10.6h-4.15zM320.85 304.24h4.15v10.6h-4.15zM325.68 304.24h4.15v10.6h-4.15zM330.5 304.24h4.15v10.6h-4.15zM335.32 304.24h4.15v10.6h-4.15zM344.98 304.24h4.15v10.6h-4.15zM349.8 304.24h4.15v10.6h-4.15zM354.62 304.24h4.15v10.6h-4.15zM397.9 304.24h4.16v10.6h-4.16zM402.73 304.24h4.16v10.6h-4.16zM407.57 304.24h4.16v10.6h-4.16zM412.4 304.24h4.16v10.6h-4.16zM417.24 304.24h4.16v10.6h-4.16zM422.07 304.24h4.16v10.6h-4.16zM426.91 304.24h4.16v10.6h-4.16zM431.75 304.24h4.16v10.6h-4.16zM436.58 304.24h4.16v10.6h-4.16zM137.6 315.7h4.16v10.6h-4.16zM142.44 315.7h4.16v10.6h-4.16zM147.27 315.7h4.16v10.6h-4.16zM152.1 315.7h4.16v10.6h-4.16zM156.94 315.7h4.16v10.6h-4.16zM161.78 315.7h4.16v10.6h-4.16zM166.61 315.7h4.16v10.6h-4.16zM171.44 315.7h4.16v10.6h-4.16zM176.28 315.7h4.16v10.6h-4.16zM181.12 315.7h4.16v10.6h-4.16zM185.95 315.7h4.16v10.6h-4.16zM190.78 315.7h4.16v10.6h-4.16zM195.62 315.7h4.16v10.6h-4.16zM234 315.7h4.15v10.6h-4.15zM238.82 315.7h4.15v10.6h-4.15zM243.65 315.7h4.15v10.6h-4.15zM258.12 315.7h4.15v10.6h-4.15zM262.95 315.7h4.15v10.6h-4.15zM267.77 315.7h4.15v10.6h-4.15zM272.6 315.7h4.15v10.6h-4.15zM277.43 315.7h4.15v10.6h-4.15zM282.25 315.7h4.15v10.6h-4.15zM287.07 315.7h4.15v10.6h-4.15zM291.9 315.7h4.15v10.6h-4.15zM296.73 315.7h4.15v10.6h-4.15zM301.55 315.7h4.15v10.6h-4.15zM306.38 315.7h4.15v10.6h-4.15zM311.2 315.7h4.15v10.6h-4.15zM316.02 315.7h4.15v10.6h-4.15zM320.85 315.7h4.15v10.6h-4.15zM325.68 315.7h4.15v10.6h-4.15zM330.5 315.7h4.15v10.6h-4.15zM335.32 315.7h4.15v10.6h-4.15zM340.15 315.7h4.15v10.6h-4.15zM344.98 315.7h4.15v10.6h-4.15zM349.8 315.7h4.15v10.6h-4.15zM354.62 315.7h4.15v10.6h-4.15zM397.9 315.7h4.16v10.6h-4.16zM402.73 315.7h4.16v10.6h-4.16zM407.57 315.7h4.16v10.6h-4.16zM412.4 315.7h4.16v10.6h-4.16zM417.24 315.7h4.16v10.6h-4.16zM422.07 315.7h4.16v10.6h-4.16zM426.91 315.7h4.16v10.6h-4.16zM431.75 315.7h4.16v10.6h-4.16zM436.58 315.7h4.16v10.6h-4.16zM137.6 361.56h4.16v10.6h-4.16zM142.44 361.56h4.16v10.6h-4.16zM147.27 361.56h4.16v10.6h-4.16zM152.1 361.56h4.16v10.6h-4.16zM156.94 361.56h4.16v10.6h-4.16zM161.78 361.56h4.16v10.6h-4.16zM166.61 361.56h4.16v10.6h-4.16zM171.44 361.56h4.16v10.6h-4.16zM176.28 361.56h4.16v10.6h-4.16zM181.12 361.56h4.16v10.6h-4.16zM185.95 361.56h4.16v10.6h-4.16zM190.78 361.56h4.16v10.6h-4.16zM195.62 361.56h4.16v10.6h-4.16zM234 361.56h4.15v10.6h-4.15zM243.65 361.56h4.15v10.6h-4.15zM248.47 361.56h4.15v10.6h-4.15zM253.3 361.56h4.15v10.6h-4.15zM258.12 361.56h4.15v10.6h-4.15zM262.95 361.56h4.15v10.6h-4.15zM272.6 361.56h4.15v10.6h-4.15zM277.43 361.56h4.15v10.6h-4.15zM282.25 361.56h4.15v10.6h-4.15zM287.07 361.56h4.15v10.6h-4.15zM291.9 361.56h4.15v10.6h-4.15zM296.73 361.56h4.15v10.6h-4.15zM301.55 361.56h4.15v10.6h-4.15zM306.38 361.56h4.15v10.6h-4.15zM311.2 361.56h4.15v10.6h-4.15zM316.02 361.56h4.15v10.6h-4.15zM320.85 361.56h4.15v10.6h-4.15zM325.68 361.56h4.15v10.6h-4.15zM330.5 361.56h4.15v10.6h-4.15zM335.32 361.56h4.15v10.6h-4.15zM340.15 361.56h4.15v10.6h-4.15zM344.98 361.56h4.15v10.6h-4.15zM349.8 361.56h4.15v10.6h-4.15zM354.62 361.56h4.15v10.6h-4.15zM397.9 361.56h4.16v10.6h-4.16zM402.73 361.56h4.16v10.6h-4.16zM407.57 361.56h4.16v10.6h-4.16zM412.4 361.56h4.16v10.6h-4.16zM417.24 361.56h4.16v10.6h-4.16zM422.07 361.56h4.16v10.6h-4.16zM426.91 361.56h4.16v10.6h-4.16zM431.75 361.56h4.16v10.6h-4.16zM436.58 361.56h4.16v10.6h-4.16zM137.6 373.02h4.16v10.6h-4.16zM142.44 373.02h4.16v10.6h-4.16zM147.27 373.02h4.16v10.6h-4.16zM152.1 373.02h4.16v10.6h-4.16zM156.94 373.02h4.16v10.6h-4.16zM166.61 373.02h4.16v10.6h-4.16zM171.44 373.02h4.16v10.6h-4.16zM176.28 373.02h4.16v10.6h-4.16zM181.12 373.02h4.16v10.6h-4.16zM185.95 373.02h4.16v10.6h-4.16zM190.78 373.02h4.16v10.6h-4.16zM195.62 373.02h4.16v10.6h-4.16zM234 373.02h4.15v10.6h-4.15zM238.82 373.02h4.15v10.6h-4.15zM243.65 373.02h4.15v10.6h-4.15zM248.47 373.02h4.15v10.6h-4.15zM253.3 373.02h4.15v10.6h-4.15zM258.12 373.02h4.15v10.6h-4.15zM262.95 373.02h4.15v10.6h-4.15zM267.77 373.02h4.15v10.6h-4.15zM272.6 373.02h4.15v10.6h-4.15zM277.43 373.02h4.15v10.6h-4.15zM282.25 373.02h4.15v10.6h-4.15zM287.07 373.02h4.15v10.6h-4.15zM291.9 373.02h4.15v10.6h-4.15zM296.73 373.02h4.15v10.6h-4.15zM301.55 373.02h4.15v10.6h-4.15zM306.38 373.02h4.15v10.6h-4.15zM311.2 373.02h4.15v10.6h-4.15zM316.02 373.02h4.15v10.6h-4.15zM320.85 373.02h4.15v10.6h-4.15zM325.68 373.02h4.15v10.6h-4.15zM330.5 373.02h4.15v10.6h-4.15zM335.32 373.02h4.15v10.6h-4.15zM340.15 373.02h4.15v10.6h-4.15zM344.98 373.02h4.15v10.6h-4.15zM349.8 373.02h4.15v10.6h-4.15zM354.62 373.02h4.15v10.6h-4.15zM397.9 373.02h4.16v10.6h-4.16zM402.73 373.02h4.16v10.6h-4.16zM407.57 373.02h4.16v10.6h-4.16zM412.4 373.02h4.16v10.6h-4.16zM417.24 373.02h4.16v10.6h-4.16zM422.07 373.02h4.16v10.6h-4.16zM426.91 373.02h4.16v10.6h-4.16zM431.75 373.02h4.16v10.6h-4.16zM436.58 373.02h4.16v10.6h-4.16zM137.6 384.49h4.16v10.6h-4.16zM142.44 384.49h4.16v10.6h-4.16zM147.27 384.49h4.16v10.6h-4.16zM152.1 384.49h4.16v10.6h-4.16zM156.94 384.49h4.16v10.6h-4.16zM161.78 384.49h4.16v10.6h-4.16zM166.61 384.49h4.16v10.6h-4.16zM171.44 384.49h4.16v10.6h-4.16zM181.12 384.49h4.16v10.6h-4.16zM185.95 384.49h4.16v10.6h-4.16zM190.78 384.49h4.16v10.6h-4.16zM195.62 384.49h4.16v10.6h-4.16zM234 384.49h4.15v10.6h-4.15zM238.82 384.49h4.15v10.6h-4.15zM243.65 384.49h4.15v10.6h-4.15zM248.47 384.49h4.15v10.6h-4.15zM253.3 384.49h4.15v10.6h-4.15zM258.12 384.49h4.15v10.6h-4.15zM262.95 384.49h4.15v10.6h-4.15zM267.77 384.49h4.15v10.6h-4.15zM272.6 384.49h4.15v10.6h-4.15zM277.43 384.49h4.15v10.6h-4.15zM282.25 384.49h4.15v10.6h-4.15zM287.07 384.49h4.15v10.6h-4.15zM291.9 384.49h4.15v10.6h-4.15zM296.73 384.49h4.15v10.6h-4.15zM301.55 384.49h4.15v10.6h-4.15zM306.38 384.49h4.15v10.6h-4.15zM311.2 384.49h4.15v10.6h-4.15zM316.02 384.49h4.15v10.6h-4.15zM320.85 384.49h4.15v10.6h-4.15zM325.68 384.49h4.15v10.6h-4.15zM330.5 384.49h4.15v10.6h-4.15zM335.32 384.49h4.15v10.6h-4.15zM340.15 384.49h4.15v10.6h-4.15zM344.98 384.49h4.15v10.6h-4.15zM349.8 384.49h4.15v10.6h-4.15zM354.62 384.49h4.15v10.6h-4.15zM397.9 384.49h4.16v10.6h-4.16zM402.73 384.49h4.16v10.6h-4.16zM407.57 384.49h4.16v10.6h-4.16zM412.4 384.49h4.16v10.6h-4.16zM417.24 384.49h4.16v10.6h-4.16zM422.07 384.49h4.16v10.6h-4.16zM426.91 384.49h4.16v10.6h-4.16zM431.75 384.49h4.16v10.6h-4.16zM436.58 384.49h4.16v10.6h-4.16zM137.6 395.96h4.16v10.6h-4.16zM142.44 395.96h4.16v10.6h-4.16zM147.27 395.96h4.16v10.6h-4.16zM152.1 395.96h4.16v10.6h-4.16zM156.94 395.96h4.16v10.6h-4.16zM161.78 395.96h4.16v10.6h-4.16zM166.61 395.96h4.16v10.6h-4.16zM171.44 395.96h4.16v10.6h-4.16zM176.28 395.96h4.16v10.6h-4.16zM181.12 395.96h4.16v10.6h-4.16zM185.95 395.96h4.16v10.6h-4.16zM190.78 395.96h4.16v10.6h-4.16zM195.62 395.96h4.16v10.6h-4.16zM234 395.96h4.15v10.6h-4.15zM238.82 395.96h4.15v10.6h-4.15zM243.65 395.96h4.15v10.6h-4.15zM248.47 395.96h4.15v10.6h-4.15zM253.3 395.96h4.15v10.6h-4.15zM258.12 395.96h4.15v10.6h-4.15zM262.95 395.96h4.15v10.6h-4.15zM267.77 395.96h4.15v10.6h-4.15zM272.6 395.96h4.15v10.6h-4.15zM277.43 395.96h4.15v10.6h-4.15zM287.07 395.96h4.15v10.6h-4.15zM291.9 395.96h4.15v10.6h-4.15zM296.73 395.96h4.15v10.6h-4.15zM301.55 395.96h4.15v10.6h-4.15zM306.38 395.96h4.15v10.6h-4.15zM311.2 395.96h4.15v10.6h-4.15zM316.02 395.96h4.15v10.6h-4.15zM320.85 395.96h4.15v10.6h-4.15zM325.68 395.96h4.15v10.6h-4.15zM330.5 395.96h4.15v10.6h-4.15zM335.32 395.96h4.15v10.6h-4.15zM340.15 395.96h4.15v10.6h-4.15zM344.98 395.96h4.15v10.6h-4.15zM349.8 395.96h4.15v10.6h-4.15zM354.62 395.96h4.15v10.6h-4.15zM397.9 395.96h4.16v10.6h-4.16zM402.73 395.96h4.16v10.6h-4.16zM407.57 395.96h4.16v10.6h-4.16zM412.4 395.96h4.16v10.6h-4.16zM417.24 395.96h4.16v10.6h-4.16zM422.07 395.96h4.16v10.6h-4.16zM426.91 395.96h4.16v10.6h-4.16zM431.75 395.96h4.16v10.6h-4.16zM436.58 395.96h4.16v10.6h-4.16zM137.6 407.42h4.16v10.6h-4.16zM142.44 407.42h4.16v10.6h-4.16zM147.27 407.42h4.16v10.6h-4.16zM152.1 407.42h4.16v10.6h-4.16zM156.94 407.42h4.16v10.6h-4.16zM161.78 407.42h4.16v10.6h-4.16zM171.44 407.42h4.16v10.6h-4.16zM176.28 407.42h4.16v10.6h-4.16zM181.12 407.42h4.16v10.6h-4.16zM185.95 407.42h4.16v10.6h-4.16zM190.78 407.42h4.16v10.6h-4.16zM195.62 407.42h4.16v10.6h-4.16zM234 407.42h4.15v10.6h-4.15zM238.82 407.42h4.15v10.6h-4.15zM243.65 407.42h4.15v10.6h-4.15zM248.47 407.42h4.15v10.6h-4.15zM253.3 407.42h4.15v10.6h-4.15zM258.12 407.42h4.15v10.6h-4.15zM262.95 407.42h4.15v10.6h-4.15zM267.77 407.42h4.15v10.6h-4.15zM272.6 407.42h4.15v10.6h-4.15zM277.43 407.42h4.15v10.6h-4.15zM282.25 407.42h4.15v10.6h-4.15zM287.07 407.42h4.15v10.6h-4.15zM291.9 407.42h4.15v10.6h-4.15zM296.73 407.42h4.15v10.6h-4.15zM301.55 407.42h4.15v10.6h-4.15zM306.38 407.42h4.15v10.6h-4.15zM311.2 407.42h4.15v10.6h-4.15zM316.02 407.42h4.15v10.6h-4.15zM320.85 407.42h4.15v10.6h-4.15zM325.68 407.42h4.15v10.6h-4.15zM330.5 407.42h4.15v10.6h-4.15zM335.32 407.42h4.15v10.6h-4.15zM344.98 407.42h4.15v10.6h-4.15zM349.8 407.42h4.15v10.6h-4.15zM354.62 407.42h4.15v10.6h-4.15zM397.9 407.42h4.16v10.6h-4.16zM402.73 407.42h4.16v10.6h-4.16zM407.57 407.42h4.16v10.6h-4.16zM412.4 407.42h4.16v10.6h-4.16zM417.24 407.42h4.16v10.6h-4.16zM422.07 407.42h4.16v10.6h-4.16zM426.91 407.42h4.16v10.6h-4.16zM431.75 407.42h4.16v10.6h-4.16zM436.58 407.42h4.16v10.6h-4.16zM137.6 418.88h4.16v10.6h-4.16zM142.44 418.88h4.16v10.6h-4.16zM147.27 418.88h4.16v10.6h-4.16zM152.1 418.88h4.16v10.6h-4.16zM156.94 418.88h4.16v10.6h-4.16zM161.78 418.88h4.16v10.6h-4.16zM166.61 418.88h4.16v10.6h-4.16zM171.44 418.88h4.16v10.6h-4.16zM176.28 418.88h4.16v10.6h-4.16zM181.12 418.88h4.16v10.6h-4.16zM185.95 418.88h4.16v10.6h-4.16zM190.78 418.88h4.16v10.6h-4.16zM195.62 418.88h4.16v10.6h-4.16zM234 418.88h4.15v10.6h-4.15zM238.82 418.88h4.15v10.6h-4.15zM243.65 418.88h4.15v10.6h-4.15zM248.47 418.88h4.15v10.6h-4.15zM253.3 418.88h4.15v10.6h-4.15zM258.12 418.88h4.15v10.6h-4.15zM262.95 418.88h4.15v10.6h-4.15zM267.77 418.88h4.15v10.6h-4.15zM272.6 418.88h4.15v10.6h-4.15zM277.43 418.88h4.15v10.6h-4.15zM282.25 418.88h4.15v10.6h-4.15zM287.07 418.88h4.15v10.6h-4.15zM291.9 418.88h4.15v10.6h-4.15zM296.73 418.88h4.15v10.6h-4.15zM301.55 418.88h4.15v10.6h-4.15zM306.38 418.88h4.15v10.6h-4.15zM311.2 418.88h4.15v10.6h-4.15zM316.02 418.88h4.15v10.6h-4.15zM320.85 418.88h4.15v10.6h-4.15zM325.68 418.88h4.15v10.6h-4.15zM330.5 418.88h4.15v10.6h-4.15zM335.32 418.88h4.15v10.6h-4.15zM340.15 418.88h4.15v10.6h-4.15zM344.98 418.88h4.15v10.6h-4.15zM349.8 418.88h4.15v10.6h-4.15zM354.62 418.88h4.15v10.6h-4.15zM397.9 418.88h4.16v10.6h-4.16zM402.73 418.88h4.16v10.6h-4.16zM407.57 418.88h4.16v10.6h-4.16zM412.4 418.88h4.16v10.6h-4.16zM417.24 418.88h4.16v10.6h-4.16zM422.07 418.88h4.16v10.6h-4.16zM426.91 418.88h4.16v10.6h-4.16zM431.75 418.88h4.16v10.6h-4.16zM436.58 418.88h4.16v10.6h-4.16zM137.6 430.35h4.16v10.6h-4.16zM142.44 430.35h4.16v10.6h-4.16zM147.27 430.35h4.16v10.6h-4.16zM152.1 430.35h4.16v10.6h-4.16zM156.94 430.35h4.16v10.6h-4.16zM161.78 430.35h4.16v10.6h-4.16zM166.61 430.35h4.16v10.6h-4.16zM171.44 430.35h4.16v10.6h-4.16zM176.28 430.35h4.16v10.6h-4.16zM181.12 430.35h4.16v10.6h-4.16zM185.95 430.35h4.16v10.6h-4.16zM190.78 430.35h4.16v10.6h-4.16zM195.62 430.35h4.16v10.6h-4.16zM234 430.35h4.15v10.6h-4.15zM238.82 430.35h4.15v10.6h-4.15zM243.65 430.35h4.15v10.6h-4.15zM248.47 430.35h4.15v10.6h-4.15zM253.3 430.35h4.15v10.6h-4.15zM258.12 430.35h4.15v10.6h-4.15zM262.95 430.35h4.15v10.6h-4.15zM267.77 430.35h4.15v10.6h-4.15zM272.6 430.35h4.15v10.6h-4.15zM277.43 430.35h4.15v10.6h-4.15zM282.25 430.35h4.15v10.6h-4.15zM287.07 430.35h4.15v10.6h-4.15zM291.9 430.35h4.15v10.6h-4.15zM296.73 430.35h4.15v10.6h-4.15zM301.55 430.35h4.15v10.6h-4.15zM306.38 430.35h4.15v10.6h-4.15zM311.2 430.35h4.15v10.6h-4.15zM316.02 430.35h4.15v10.6h-4.15zM320.85 430.35h4.15v10.6h-4.15zM325.68 430.35h4.15v10.6h-4.15zM330.5 430.35h4.15v10.6h-4.15zM335.32 430.35h4.15v10.6h-4.15zM340.15 430.35h4.15v10.6h-4.15zM344.98 430.35h4.15v10.6h-4.15zM349.8 430.35h4.15v10.6h-4.15zM354.62 430.35h4.15v10.6h-4.15zM397.9 430.35h4.16v10.6h-4.16zM402.73 430.35h4.16v10.6h-4.16zM407.57 430.35h4.16v10.6h-4.16zM417.24 430.35h4.16v10.6h-4.16zM422.07 430.35h4.16v10.6h-4.16zM426.91 430.35h4.16v10.6h-4.16zM431.75 430.35h4.16v10.6h-4.16zM436.58 430.35h4.16v10.6h-4.16zM137.6 441.82h4.16v10.6h-4.16zM142.44 441.82h4.16v10.6h-4.16zM147.27 441.82h4.16v10.6h-4.16zM156.94 441.82h4.16v10.6h-4.16zM161.78 441.82h4.16v10.6h-4.16zM166.61 441.82h4.16v10.6h-4.16zM171.44 441.82h4.16v10.6h-4.16zM176.28 441.82h4.16v10.6h-4.16zM181.12 441.82h4.16v10.6h-4.16zM185.95 441.82h4.16v10.6h-4.16zM190.78 441.82h4.16v10.6h-4.16zM195.62 441.82h4.16v10.6h-4.16zM234 441.82h4.15v10.6h-4.15zM238.82 441.82h4.15v10.6h-4.15zM243.65 441.82h4.15v10.6h-4.15zM248.47 441.82h4.15v10.6h-4.15zM253.3 441.82h4.15v10.6h-4.15zM258.12 441.82h4.15v10.6h-4.15zM262.95 441.82h4.15v10.6h-4.15zM267.77 441.82h4.15v10.6h-4.15zM272.6 441.82h4.15v10.6h-4.15zM277.43 441.82h4.15v10.6h-4.15zM282.25 441.82h4.15v10.6h-4.15zM287.07 441.82h4.15v10.6h-4.15zM291.9 441.82h4.15v10.6h-4.15zM296.73 441.82h4.15v10.6h-4.15zM301.55 441.82h4.15v10.6h-4.15zM306.38 441.82h4.15v10.6h-4.15zM316.02 441.82h4.15v10.6h-4.15zM320.85 441.82h4.15v10.6h-4.15zM325.68 441.82h4.15v10.6h-4.15zM330.5 441.82h4.15v10.6h-4.15zM335.32 441.82h4.15v10.6h-4.15zM340.15 441.82h4.15v10.6h-4.15zM344.98 441.82h4.15v10.6h-4.15zM349.8 441.82h4.15v10.6h-4.15zM354.62 441.82h4.15v10.6h-4.15zM397.9 441.82h4.16v10.6h-4.16zM402.73 441.82h4.16v10.6h-4.16zM407.57 441.82h4.16v10.6h-4.16zM412.4 441.82h4.16v10.6h-4.16zM417.24 441.82h4.16v10.6h-4.16zM422.07 441.82h4.16v10.6h-4.16zM426.91 441.82h4.16v10.6h-4.16zM431.75 441.82h4.16v10.6h-4.16zM436.58 441.82h4.16v10.6h-4.16zM137.6 453.28h4.16v10.6h-4.16zM142.44 453.28h4.16v10.6h-4.16zM147.27 453.28h4.16v10.6h-4.16zM156.94 453.28h4.16v10.6h-4.16zM161.78 453.28h4.16v10.6h-4.16zM166.61 453.28h4.16v10.6h-4.16zM171.44 453.28h4.16v10.6h-4.16zM176.28 453.28h4.16v10.6h-4.16zM181.12 453.28h4.16v10.6h-4.16zM185.95 453.28h4.16v10.6h-4.16zM190.78 453.28h4.16v10.6h-4.16zM195.62 453.28h4.16v10.6h-4.16zM234 453.28h4.15v10.6h-4.15zM238.82 453.28h4.15v10.6h-4.15zM243.65 453.28h4.15v10.6h-4.15zM248.47 453.28h4.15v10.6h-4.15zM253.3 453.28h4.15v10.6h-4.15zM258.12 453.28h4.15v10.6h-4.15zM262.95 453.28h4.15v10.6h-4.15zM267.77 453.28h4.15v10.6h-4.15zM272.6 453.28h4.15v10.6h-4.15zM277.43 453.28h4.15v10.6h-4.15zM282.25 453.28h4.15v10.6h-4.15zM287.07 453.28h4.15v10.6h-4.15zM291.9 453.28h4.15v10.6h-4.15zM296.73 453.28h4.15v10.6h-4.15zM301.55 453.28h4.15v10.6h-4.15zM306.38 453.28h4.15v10.6h-4.15zM311.2 453.28h4.15v10.6h-4.15zM316.02 453.28h4.15v10.6h-4.15zM320.85 453.28h4.15v10.6h-4.15zM325.68 453.28h4.15v10.6h-4.15zM330.5 453.28h4.15v10.6h-4.15zM335.32 453.28h4.15v10.6h-4.15zM340.15 453.28h4.15v10.6h-4.15zM344.98 453.28h4.15v10.6h-4.15zM349.8 453.28h4.15v10.6h-4.15zM354.62 453.28h4.15v10.6h-4.15zM397.9 453.28h4.16v10.6h-4.16zM402.73 453.28h4.16v10.6h-4.16zM407.57 453.28h4.16v10.6h-4.16zM412.4 453.28h4.16v10.6h-4.16zM417.24 453.28h4.16v10.6h-4.16zM422.07 453.28h4.16v10.6h-4.16zM426.91 453.28h4.16v10.6h-4.16zM431.75 453.28h4.16v10.6h-4.16zM436.58 453.28h4.16v10.6h-4.16z"/>
<text x="134" y="94.85" text-anchor="end" font-style="italic" font-size="8.0" fill="#1c1c1c">TET2</text>
<text x="134" y="106.32" text-anchor="end" font-style="italic" font-size="8.0" fill="#1c1c1c">IDH2</text>
<text x="134" y="117.78" text-anchor="end" font-style="italic" font-size="8.0" fill="#1c1c1c">DNMT3A</text>
<text x="134" y="129.25" text-anchor="end" font-style="italic" font-size="8.0" fill="#1c1c1c">DNMT3B</text>
<text x="134" y="140.71" text-anchor="end" font-style="italic" font-size="8.0" fill="#1c1c1c">NRAS</text>
<text x="134" y="152.18" text-anchor="end" font-style="italic" font-size="8.0" fill="#1c1c1c">KRAS</text>
<text x="134" y="163.64" text-anchor="end" font-style="italic" font-size="8.0" fill="#1c1c1c">FLT3</text>
<text x="134" y="175.11" text-anchor="end" font-style="italic" font-size="8.0" fill="#1c1c1c">CBL</text>
<text x="134" y="186.57" text-anchor="end" font-style="italic" font-size="8.0" fill="#1c1c1c">CKIT</text>
<text x="134" y="198.04" text-anchor="end" font-style="italic" font-size="8.0" fill="#1c1c1c">SH2B3</text>
<text x="134" y="209.50" text-anchor="end" font-style="italic" font-size="8.0" fill="#1c1c1c">ASXL1</text>
<text x="134" y="220.97" text-anchor="end" font-style="italic" font-size="8.0" fill="#1c1c1c">BCOR</text>
<text x="134" y="232.43" text-anchor="end" font-style="italic" font-size="8.0" fill="#1c1c1c">EZH2</text>
<text x="134" y="243.90" text-anchor="end" font-style="italic" font-size="8.0" fill="#1c1c1c">SF3B1</text>
<text x="134" y="255.36" text-anchor="end" font-style="italic" font-size="8.0" fill="#1c1c1c">SRSF2</text>
<text x="134" y="266.82" text-anchor="end" font-style="italic" font-size="8.0" fill="#1c1c1c">U2AF1</text>
<text x="134" y="278.29" text-anchor="end" font-style="italic" font-size="8.0" fill="#1c1c1c">ZRSR2</text>
<text x="134" y="289.75" text-anchor="end" font-style="italic" font-size="8.0" fill="#1c1c1c">JAK2</text>
<text x="134" y="301.22" text-anchor="end" font-style="italic" font-size="8.0" fill="#1c1c1c">MPL</text>
<text x="134" y="312.69" text-anchor="end" font-style="italic" font-size="8.0" fill="#1c1c1c">TP53</text>
<text x="134" y="324.15" text-anchor="end" font-style="italic" font-size="8.0" fill="#1c1c1c">PPM1D</text>
<text x="134" y="335.61" text-anchor="end" font-style="italic" font-size="8.0" fill="#1c1c1c">RUNX1</text>
<text x="134" y="347.08" text-anchor="end" font-style="italic" font-size="8.0" fill="#1c1c1c">ETV6</text>
<text x="134" y="358.55" text-anchor="end" font-style="italic" font-size="8.0" fill="#1c1c1c">IKZF1</text>
<text x="134" y="370.01" text-anchor="end" font-style="italic" font-size="8.0" fill="#1c1c1c">ATM</text>
<text x="134" y="381.47" text-anchor="end" font-style="italic" font-size="8.0" fill="#1c1c1c">BRAF</text>
<text x="134" y="392.94" text-anchor="end" font-style="italic" font-size="8.0" fill="#1c1c1c">BRCC3</text>
<text x="134" y="404.41" text-anchor="end" font-style="italic" font-size="8.0" fill="#1c1c1c">CUX1</text>
<text x="134" y="415.87" text-anchor="end" font-style="italic" font-size="8.0" fill="#1c1c1c">FANCL</text>
<text x="134" y="427.33" text-anchor="end" font-style="italic" font-size="8.0" fill="#1c1c1c">GATA2</text>
<text x="134" y="438.80" text-anchor="end" font-style="italic" font-size="8.0" fill="#1c1c1c">GNB1</text>
<text x="134" y="450.27" text-anchor="end" font-style="italic" font-size="8.0" fill="#1c1c1c">NOTCH2</text>
<text x="134" y="461.73" text-anchor="end" font-style="italic" font-size="8.0" fill="#1c1c1c">NOTCH3</text>
<!-- legend -->
<rect x="100.4" y="469.5" width="3.8" height="9.7" fill="#5a3c9e"/>
<rect x="140.3" y="469.5" width="3.6" height="9.7" fill="#8a8c8e"/>
<rect x="210.2" y="469.5" width="4.2" height="9.7" fill="#0a0a0a"/>
<rect x="290.0" y="469.5" width="4.0" height="9.7" fill="#1ea5e8"/>
<rect x="294.6" y="469.5" width="4.0" height="9.7" fill="#1a88cf"/>
<rect x="299.2" y="469.5" width="4.0" height="9.7" fill="#1468ab"/>
<rect x="303.8" y="469.5" width="4.0" height="9.7" fill="#0d5392"/>
<rect x="308.4" y="469.5" width="4.0" height="9.7" fill="#0a2a5e"/>
<rect x="381.5" y="469.5" width="4.0" height="9.7" fill="#e6e6e7"/>
<g font-size="7.6" fill="#1c1c1c">
<text x="107.2" y="476.9">high UV</text>
<text x="147.0" y="476.9">normal karyotype</text>
<text x="217.6" y="476.9">Complex karyotype</text>
<text x="316.0" y="476.9">mutated gene</text>
<text x="389.0" y="476.9">missing data</text>
<text x="288.4" y="490.3">(darker = more mutations)</text>
</g>
<!-- panel B -->
<text x="7.0" y="515.8" font-size="11.2" font-weight="bold" fill="#111">B</text>
<g stroke="#222" stroke-width="0.9" fill="none">
<path d="M40.2 520.6V635.4H274.5"/>
<path d="M36.8 524.0H40.2M36.8 535.14H40.2M36.8 546.28H40.2M36.8 557.42H40.2M36.8 568.56H40.2M36.8 579.7H40.2M36.8 590.84H40.2M36.8 601.98H40.2M36.8 613.12H40.2M36.8 624.26H40.2M36.8 635.4H40.2"/>
<path d="M58.5 635.4V638.2M86.9 635.4V638.2M143.0 635.4V638.2M171.4 635.4V638.2M227.6 635.4V638.2M256.0 635.4V638.2"/>
</g>
<g font-size="8.1" fill="#1c1c1c" text-anchor="end">
<text x="34.3" y="526.1">100</text><text x="34.3" y="537.2">90</text><text x="34.3" y="548.4">80</text><text x="34.3" y="559.5">70</text><text x="34.3" y="570.7">60</text><text x="34.3" y="581.8">50</text><text x="34.3" y="592.9">40</text><text x="34.3" y="604.1">30</text><text x="34.3" y="615.2">20</text><text x="34.3" y="626.4">10</text><text x="34.3" y="637.5">0</text>
</g>
<text transform="translate(14.8 578.0) rotate(-90)" font-size="7.8" fill="#1c1c1c" text-anchor="middle">%</text>
<g fill="#4c69a6">
<rect x="49.2" y="583.2" width="18.6" height="52.2"/>
<rect x="77.5" y="614.4" width="18.7" height="21.0"/>
<rect x="162.3" y="599.9" width="18.6" height="35.5"/>
<rect x="246.8" y="603.2" width="18.4" height="32.2"/>
</g>
<g stroke="#222" stroke-width="0.8" fill="none">
<path d="M58.2 578.2V572.6H86.7V578.2"/>
<path d="M142.3 578.2V572.6H170.5V578.2"/>
<path d="M229.0 578.2V572.6H257.7V578.2"/>
</g>
<g font-size="7.8" fill="#1c1c1c" text-anchor="middle">
<text x="72.5" y="569.6">0.032</text>
<text x="156.4" y="569.6">0.022</text>
<text x="243.2" y="569.6">0.044</text>
<text x="58.8" y="648.7">Skin</text><text x="58.8" y="658.1">only</text>
<text x="87.0" y="648.7">Any</text><text x="87.0" y="658.1">systemic</text>
<text x="76.2" y="669.9">Age ≥ 75</text>
<text x="143.1" y="648.7">Skin</text><text x="143.1" y="658.1">only</text>
<text x="171.2" y="648.7">Any</text><text x="171.2" y="658.1">systemic</text>
<text x="160.8" y="669.9">Complex</text><text x="160.8" y="679.4">karyotype</text>
<text x="227.6" y="648.7">Skin</text><text x="227.6" y="658.1">only</text>
<text x="255.8" y="648.7">Any</text><text x="255.8" y="658.1">systemic</text>
<text x="245.4" y="669.9" font-style="italic">NRAS</text><text x="245.4" y="679.4">mutation</text>
</g>
<!-- panel C -->
<text x="290.9" y="515.8" font-size="11.2" font-weight="bold" fill="#111">C</text>
<g stroke="#222" stroke-width="0.9" fill="none">
<path d="M323.9 520.4V635.4H513.2"/>
<path d="M320.4 524.0H323.9M320.4 535.14H323.9M320.4 546.28H323.9M320.4 557.42H323.9M320.4 568.56H323.9M320.4 579.7H323.9M320.4 590.84H323.9M320.4 601.98H323.9M320.4 613.12H323.9M320.4 624.26H323.9M320.4 635.4H323.9"/>
<path d="M347.2 635.4V638.2M382.9 635.4V638.2M453.7 635.4V638.2M489.2 635.4V638.2"/>
</g>
<g font-size="8.1" fill="#1c1c1c" text-anchor="end">
<text x="318.2" y="525.9">100</text><text x="318.2" y="537.0">90</text><text x="318.2" y="548.2">80</text><text x="318.2" y="559.3">70</text><text x="318.2" y="570.5">60</text><text x="318.2" y="581.6">50</text><text x="318.2" y="592.7">40</text><text x="318.2" y="603.9">30</text><text x="318.2" y="615.0">20</text><text x="318.2" y="626.2">10</text><text x="318.2" y="637.3">0</text>
</g>
<text transform="translate(296.6 578.4) rotate(-90)" font-size="7.8" fill="#1c1c1c" text-anchor="middle">%</text>
<g fill="#104a80">
<rect x="335.6" y="569.7" width="23.3" height="65.7"/>
<rect x="371.2" y="609.8" width="23.5" height="25.6"/>
<rect x="442.1" y="555.2" width="23.2" height="80.2"/>
<rect x="477.6" y="598.6" width="23.3" height="36.8"/>
</g>
<g stroke="#222" stroke-width="0.8" fill="none">
<path d="M347.7 549.4V544.6H383.2V549.4"/>
<path d="M453.6 549.4V544.6H489.4V549.4"/>
</g>
<g font-size="7.8" fill="#1c1c1c" text-anchor="middle">
<text x="364.9" y="541.2">0.030</text>
<text x="471.2" y="541.2">0.051</text>
<text x="347.4" y="648.7">Any</text><text x="347.4" y="658.1">Skin</text>
<text x="383.0" y="648.7">Systemic</text><text x="383.0" y="658.1">only</text>
<text x="369.0" y="669.9">High UV</text><text x="369.0" y="679.4">exposure</text>
<text x="453.6" y="648.7">Any</text><text x="453.6" y="658.1">Skin</text>
<text x="489.2" y="648.7">Systemic</text><text x="489.2" y="658.1">only</text>
<text x="475.6" y="669.9" font-style="italic">TET2</text><text x="475.2" y="679.4">mutation</text>
</g>
<g fill="#000" fill-opacity="0.66"><rect x="0" y="0" width="520" height="1"/><rect x="0" y="687" width="520" height="1"/><rect x="0" y="0" width="1" height="688"/><rect x="519" y="0" width="1" height="688"/></g>
</svg>
</body></html>
